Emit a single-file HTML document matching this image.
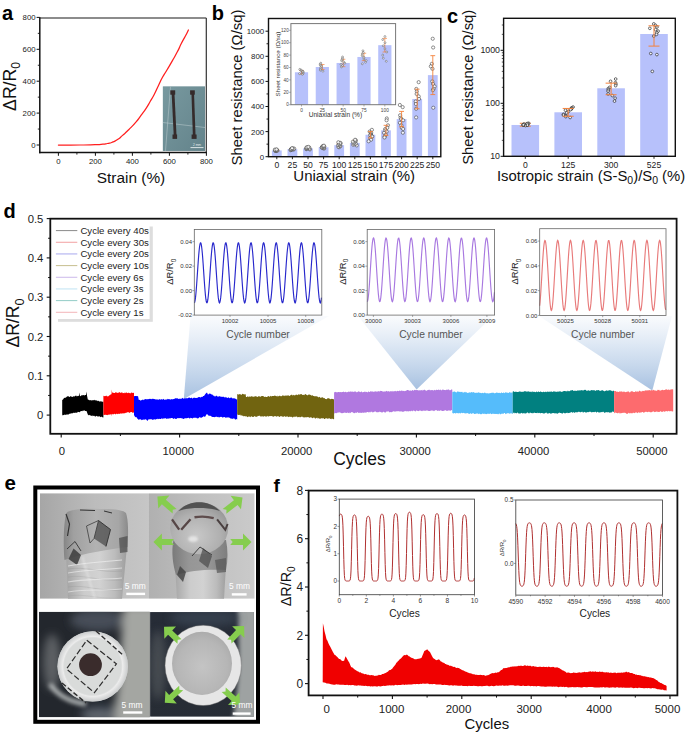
<!DOCTYPE html>
<html><head><meta charset="utf-8"><style>
html,body{margin:0;padding:0;background:#fff;}
svg{display:block;font-family:"Liberation Sans", sans-serif;}
</style></head><body>
<svg width="685" height="733" viewBox="0 0 685 733">
<defs>
<linearGradient id="gA" x1="0" y1="0" x2="1" y2="1"><stop offset="0" stop-color="#7fa0a6" stop-opacity="0.6"/><stop offset="1" stop-color="#5d7c84" stop-opacity="0.6"/></linearGradient>
<linearGradient id="gCone" x1="0" y1="0" x2="0" y2="1"><stop offset="0" stop-color="#c8d8ec" stop-opacity="0.1"/><stop offset="0.45" stop-color="#bed2ea" stop-opacity="0.6"/><stop offset="1" stop-color="#a6c0e0" stop-opacity="1"/></linearGradient>
<clipPath id="c1"><rect x="40" y="493.2" width="109.2" height="105.6"/></clipPath>
<clipPath id="c2"><rect x="149" y="493.2" width="105.7" height="105.6"/></clipPath>
<clipPath id="c3"><rect x="39" y="611.7" width="110.8" height="105.6"/></clipPath>
<clipPath id="c4"><rect x="150.1" y="612.1" width="103.8" height="104.6"/></clipPath>
<filter id="bl1" x="-50%" y="-50%" width="200%" height="200%"><feGaussianBlur stdDeviation="1.2"/></filter>
<filter id="bl2" x="-50%" y="-50%" width="200%" height="200%"><feGaussianBlur stdDeviation="2"/></filter>
<filter id="bl3" x="-50%" y="-50%" width="200%" height="200%"><feGaussianBlur stdDeviation="4"/></filter>
<linearGradient id="bg1" x1="0" y1="0" x2="1" y2="0"><stop offset="0" stop-color="#a6a6a6"/><stop offset="0.5" stop-color="#bcbcbc"/><stop offset="1" stop-color="#c6c6c6"/></linearGradient>
<linearGradient id="bg2" x1="0" y1="0" x2="1" y2="0"><stop offset="0" stop-color="#b0b0b0"/><stop offset="0.5" stop-color="#c0c0c0"/><stop offset="1" stop-color="#cacaca"/></linearGradient>
<linearGradient id="cylL" x1="0" y1="0" x2="1" y2="0"><stop offset="0" stop-color="#a4a4a4"/><stop offset="0.3" stop-color="#cccccc"/><stop offset="0.55" stop-color="#d2d2d2"/><stop offset="0.8" stop-color="#bcbcbc"/><stop offset="1" stop-color="#9c9c9c"/></linearGradient>
<linearGradient id="cap1" x1="0" y1="0" x2="1" y2="0"><stop offset="0" stop-color="#858585"/><stop offset="0.15" stop-color="#a0a0a0"/><stop offset="0.5" stop-color="#b2b2b2"/><stop offset="0.85" stop-color="#a6a6a6"/><stop offset="1" stop-color="#8a8a8a"/></linearGradient>
<radialGradient id="bub" cx="0.45" cy="0.65" r="0.7"><stop offset="0" stop-color="#c8c8c8"/><stop offset="0.6" stop-color="#b0b0b0"/><stop offset="1" stop-color="#929292"/></radialGradient>
<linearGradient id="bg3" x1="0" y1="0" x2="0" y2="1"><stop offset="0" stop-color="#1c2026" stop-opacity="0.3"/><stop offset="1" stop-color="#303840" stop-opacity="0.4"/></linearGradient>
<linearGradient id="bg4" x1="0" y1="0" x2="0" y2="1"><stop offset="0" stop-color="#2a3240" stop-opacity="0.5"/><stop offset="1" stop-color="#303840" stop-opacity="0.4"/></linearGradient>
<radialGradient id="disk4" cx="0.5" cy="0.55" r="0.6"><stop offset="0" stop-color="#c4c4c4"/><stop offset="0.7" stop-color="#b6b6b6"/><stop offset="1" stop-color="#a8a8a8"/></radialGradient>
<radialGradient id="ring3" cx="0.5" cy="0.5" r="0.5"><stop offset="0" stop-color="#d0d2d2" stop-opacity="0"/><stop offset="0.78" stop-color="#d0d2d2" stop-opacity="0.0"/><stop offset="0.85" stop-color="#eeeeee" stop-opacity="0.9"/><stop offset="1" stop-color="#c8cacb" stop-opacity="0.9"/></radialGradient>
<linearGradient id="cap2" x1="0" y1="0" x2="1" y2="0"><stop offset="0" stop-color="#7a7a7a"/><stop offset="0.3" stop-color="#969696"/><stop offset="0.6" stop-color="#9a9a9a"/><stop offset="1" stop-color="#7e7e7e"/></linearGradient>
</defs>
<text x="2.00" y="19.90" font-size="20" text-anchor="start" fill="#000" font-weight="bold">a</text>
<g>
<rect x="162.90" y="86.50" width="42.10" height="64.40" fill="#6d8e95"/>
<rect x="162.9" y="86.5" width="42.1" height="64.4" fill="url(#gA)"/>
<line x1="170.50" y1="86.50" x2="165.50" y2="150.90" stroke="#b8c8cc" stroke-width="0.8" opacity="0.7"/>
<line x1="162.90" y1="122.50" x2="205.00" y2="127.50" stroke="#b8c8cc" stroke-width="0.8" opacity="0.7"/>
<path d="M171.6,92 L174.4,92 L176.6,137 L173.8,137 Z" fill="#352b2b" stroke="none" stroke-width="1"/>
<path d="M191.4,92 L194.0,92 L195.6,137 L192.9,137 Z" fill="#352b2b" stroke="none" stroke-width="1"/>
<rect x="170.30" y="90.30" width="4.90" height="4.40" fill="#352b2b"/>
<rect x="172.50" y="134.50" width="4.60" height="4.40" fill="#352b2b"/>
<rect x="190.10" y="90.30" width="4.70" height="4.40" fill="#352b2b"/>
<rect x="191.60" y="134.50" width="5.00" height="4.40" fill="#352b2b"/>
<line x1="190.50" y1="147.60" x2="203.50" y2="147.60" stroke="#e8eeee" stroke-width="0.9"/>
<text x="197.00" y="146.20" font-size="3.2" text-anchor="middle" fill="#e8eeee" font-weight="normal">2 mm</text>
</g>
<path d="M58.40,145.00 C65.60,145.00 67.80,145.13 80.00,145.00 C92.20,144.87 87.97,144.82 95.00,144.60 C102.03,144.38 97.00,144.72 101.10,144.35 C105.20,143.98 103.53,144.22 107.30,143.50 C111.07,142.78 109.00,143.53 112.40,142.20 C115.80,140.87 114.10,141.77 117.50,139.50 C120.90,137.23 118.87,138.67 122.60,135.40 C126.33,132.13 124.27,134.13 128.70,129.70 C133.13,125.27 131.80,126.87 135.90,122.10 C140.00,117.33 137.60,120.00 141.00,115.40 C144.40,110.80 143.00,113.00 146.10,108.30 C149.20,103.60 147.60,105.90 150.30,101.30 C153.00,96.70 151.47,99.77 154.20,94.50 C156.93,89.23 155.73,91.23 158.50,85.50 C161.27,79.77 159.73,82.40 162.50,77.30 C165.27,72.20 163.53,75.67 166.80,70.20 C170.07,64.73 168.67,67.27 172.30,60.90 C175.93,54.53 174.70,56.90 177.70,51.10 C180.70,45.30 178.73,48.53 181.30,43.50 C183.87,38.47 183.03,40.50 185.40,36.00 C187.77,31.50 187.40,32.00 188.40,30.00" fill="none" stroke="#ff1e1e" stroke-width="1.25" stroke-linejoin="round" stroke-linecap="round"/>
<line x1="39.80" y1="18.00" x2="206.30" y2="18.00" stroke="#666" stroke-width="1.4"/>
<line x1="206.30" y1="18.00" x2="206.30" y2="152.60" stroke="#333" stroke-width="1.2"/>
<line x1="39.80" y1="17.30" x2="39.80" y2="153.30" stroke="#111" stroke-width="1.5"/>
<line x1="39.10" y1="152.60" x2="206.90" y2="152.60" stroke="#111" stroke-width="1.5"/>
<line x1="36.60" y1="145.00" x2="39.80" y2="145.00" stroke="#111" stroke-width="1"/>
<text x="35.60" y="147.80" font-size="7.8" text-anchor="end" fill="#222" font-weight="normal">0</text>
<line x1="36.60" y1="113.10" x2="39.80" y2="113.10" stroke="#111" stroke-width="1"/>
<text x="35.60" y="115.90" font-size="7.8" text-anchor="end" fill="#222" font-weight="normal">200</text>
<line x1="36.60" y1="81.20" x2="39.80" y2="81.20" stroke="#111" stroke-width="1"/>
<text x="35.60" y="84.00" font-size="7.8" text-anchor="end" fill="#222" font-weight="normal">400</text>
<line x1="36.60" y1="49.30" x2="39.80" y2="49.30" stroke="#111" stroke-width="1"/>
<text x="35.60" y="52.10" font-size="7.8" text-anchor="end" fill="#222" font-weight="normal">600</text>
<line x1="36.60" y1="17.40" x2="39.80" y2="17.40" stroke="#111" stroke-width="1"/>
<text x="35.60" y="20.20" font-size="7.8" text-anchor="end" fill="#222" font-weight="normal">800</text>
<line x1="37.80" y1="129.05" x2="39.80" y2="129.05" stroke="#111" stroke-width="0.9"/>
<line x1="37.80" y1="97.15" x2="39.80" y2="97.15" stroke="#111" stroke-width="0.9"/>
<line x1="37.80" y1="65.25" x2="39.80" y2="65.25" stroke="#111" stroke-width="0.9"/>
<line x1="37.80" y1="33.35" x2="39.80" y2="33.35" stroke="#111" stroke-width="0.9"/>
<line x1="58.40" y1="152.60" x2="58.40" y2="155.80" stroke="#111" stroke-width="1"/>
<text x="58.40" y="163.60" font-size="7.8" text-anchor="middle" fill="#222" font-weight="normal">0</text>
<line x1="95.40" y1="152.60" x2="95.40" y2="155.80" stroke="#111" stroke-width="1"/>
<text x="95.40" y="163.60" font-size="7.8" text-anchor="middle" fill="#222" font-weight="normal">200</text>
<line x1="132.40" y1="152.60" x2="132.40" y2="155.80" stroke="#111" stroke-width="1"/>
<text x="132.40" y="163.60" font-size="7.8" text-anchor="middle" fill="#222" font-weight="normal">400</text>
<line x1="169.40" y1="152.60" x2="169.40" y2="155.80" stroke="#111" stroke-width="1"/>
<text x="169.40" y="163.60" font-size="7.8" text-anchor="middle" fill="#222" font-weight="normal">600</text>
<line x1="206.40" y1="152.60" x2="206.40" y2="155.80" stroke="#111" stroke-width="1"/>
<text x="206.40" y="163.60" font-size="7.8" text-anchor="middle" fill="#222" font-weight="normal">800</text>
<line x1="76.90" y1="152.60" x2="76.90" y2="154.60" stroke="#111" stroke-width="0.9"/>
<line x1="113.90" y1="152.60" x2="113.90" y2="154.60" stroke="#111" stroke-width="0.9"/>
<line x1="150.90" y1="152.60" x2="150.90" y2="154.60" stroke="#111" stroke-width="0.9"/>
<line x1="187.90" y1="152.60" x2="187.90" y2="154.60" stroke="#111" stroke-width="0.9"/>
<text x="131.00" y="183.20" font-size="15.4" text-anchor="middle" fill="#111" font-weight="normal">Strain (%)</text>
<text transform="translate(16.1,86.5) rotate(-90)" font-size="17.6" text-anchor="middle" fill="#111">ΔR/R<tspan font-size="12" dy="3.8">0</tspan></text>
<text x="211.80" y="20.00" font-size="20" text-anchor="start" fill="#000" font-weight="bold">b</text>
<rect x="271.90" y="150.42" width="9.80" height="6.28" fill="#b7c1fb"/>
<rect x="287.50" y="149.17" width="9.80" height="7.53" fill="#b7c1fb"/>
<rect x="303.10" y="148.42" width="9.80" height="8.28" fill="#b7c1fb"/>
<rect x="318.70" y="147.29" width="9.80" height="9.41" fill="#b7c1fb"/>
<rect x="334.30" y="145.15" width="9.80" height="11.55" fill="#b7c1fb"/>
<rect x="349.90" y="142.89" width="9.80" height="13.81" fill="#b7c1fb"/>
<rect x="365.50" y="134.74" width="9.80" height="21.96" fill="#b7c1fb"/>
<rect x="381.10" y="130.34" width="9.80" height="26.35" fill="#b7c1fb"/>
<rect x="396.70" y="119.05" width="9.80" height="37.65" fill="#b7c1fb"/>
<rect x="412.30" y="98.97" width="9.80" height="57.73" fill="#b7c1fb"/>
<rect x="427.90" y="75.12" width="9.80" height="81.58" fill="#b7c1fb"/>
<line x1="276.80" y1="151.05" x2="276.80" y2="149.80" stroke="#f4823c" stroke-width="0.9"/>
<line x1="274.40" y1="151.05" x2="279.20" y2="151.05" stroke="#f4823c" stroke-width="0.9"/>
<line x1="274.40" y1="149.80" x2="279.20" y2="149.80" stroke="#f4823c" stroke-width="0.9"/>
<circle cx="276.10" cy="151.05" r="1.6" fill="#fff" fill-opacity="0.85" stroke="#444" stroke-width="0.6"/>
<circle cx="275.40" cy="150.87" r="1.6" fill="#fff" fill-opacity="0.85" stroke="#444" stroke-width="0.6"/>
<circle cx="277.40" cy="150.69" r="1.6" fill="#fff" fill-opacity="0.85" stroke="#444" stroke-width="0.6"/>
<circle cx="275.09" cy="150.51" r="1.6" fill="#fff" fill-opacity="0.85" stroke="#444" stroke-width="0.6"/>
<circle cx="276.94" cy="150.33" r="1.6" fill="#fff" fill-opacity="0.85" stroke="#444" stroke-width="0.6"/>
<circle cx="276.26" cy="150.15" r="1.6" fill="#fff" fill-opacity="0.85" stroke="#444" stroke-width="0.6"/>
<circle cx="275.03" cy="149.96" r="1.6" fill="#fff" fill-opacity="0.85" stroke="#444" stroke-width="0.6"/>
<circle cx="276.83" cy="149.78" r="1.6" fill="#fff" fill-opacity="0.85" stroke="#444" stroke-width="0.6"/>
<circle cx="274.95" cy="149.60" r="1.6" fill="#fff" fill-opacity="0.85" stroke="#444" stroke-width="0.6"/>
<circle cx="276.53" cy="149.42" r="1.6" fill="#fff" fill-opacity="0.85" stroke="#444" stroke-width="0.6"/>
<line x1="292.40" y1="149.92" x2="292.40" y2="148.42" stroke="#f4823c" stroke-width="0.9"/>
<line x1="290.00" y1="149.92" x2="294.80" y2="149.92" stroke="#f4823c" stroke-width="0.9"/>
<line x1="290.00" y1="148.42" x2="294.80" y2="148.42" stroke="#f4823c" stroke-width="0.9"/>
<circle cx="290.68" cy="150.17" r="1.6" fill="#fff" fill-opacity="0.85" stroke="#444" stroke-width="0.6"/>
<circle cx="290.76" cy="149.95" r="1.6" fill="#fff" fill-opacity="0.85" stroke="#444" stroke-width="0.6"/>
<circle cx="292.10" cy="149.73" r="1.6" fill="#fff" fill-opacity="0.85" stroke="#444" stroke-width="0.6"/>
<circle cx="293.71" cy="149.50" r="1.6" fill="#fff" fill-opacity="0.85" stroke="#444" stroke-width="0.6"/>
<circle cx="290.90" cy="149.28" r="1.6" fill="#fff" fill-opacity="0.85" stroke="#444" stroke-width="0.6"/>
<circle cx="291.29" cy="149.06" r="1.6" fill="#fff" fill-opacity="0.85" stroke="#444" stroke-width="0.6"/>
<circle cx="292.91" cy="148.84" r="1.6" fill="#fff" fill-opacity="0.85" stroke="#444" stroke-width="0.6"/>
<circle cx="294.19" cy="148.61" r="1.6" fill="#fff" fill-opacity="0.85" stroke="#444" stroke-width="0.6"/>
<circle cx="292.71" cy="148.39" r="1.6" fill="#fff" fill-opacity="0.85" stroke="#444" stroke-width="0.6"/>
<circle cx="291.99" cy="148.17" r="1.6" fill="#fff" fill-opacity="0.85" stroke="#444" stroke-width="0.6"/>
<line x1="308.00" y1="149.42" x2="308.00" y2="147.41" stroke="#f4823c" stroke-width="0.9"/>
<line x1="305.60" y1="149.42" x2="310.40" y2="149.42" stroke="#f4823c" stroke-width="0.9"/>
<line x1="305.60" y1="147.41" x2="310.40" y2="147.41" stroke="#f4823c" stroke-width="0.9"/>
<circle cx="309.91" cy="149.42" r="1.6" fill="#fff" fill-opacity="0.85" stroke="#444" stroke-width="0.6"/>
<circle cx="306.19" cy="149.14" r="1.6" fill="#fff" fill-opacity="0.85" stroke="#444" stroke-width="0.6"/>
<circle cx="309.43" cy="148.86" r="1.6" fill="#fff" fill-opacity="0.85" stroke="#444" stroke-width="0.6"/>
<circle cx="307.16" cy="148.58" r="1.6" fill="#fff" fill-opacity="0.85" stroke="#444" stroke-width="0.6"/>
<circle cx="306.58" cy="148.31" r="1.6" fill="#fff" fill-opacity="0.85" stroke="#444" stroke-width="0.6"/>
<circle cx="306.47" cy="148.03" r="1.6" fill="#fff" fill-opacity="0.85" stroke="#444" stroke-width="0.6"/>
<circle cx="307.23" cy="147.75" r="1.6" fill="#fff" fill-opacity="0.85" stroke="#444" stroke-width="0.6"/>
<circle cx="309.26" cy="147.47" r="1.6" fill="#fff" fill-opacity="0.85" stroke="#444" stroke-width="0.6"/>
<circle cx="306.72" cy="147.19" r="1.6" fill="#fff" fill-opacity="0.85" stroke="#444" stroke-width="0.6"/>
<circle cx="308.33" cy="146.91" r="1.6" fill="#fff" fill-opacity="0.85" stroke="#444" stroke-width="0.6"/>
<line x1="323.60" y1="148.54" x2="323.60" y2="146.03" stroke="#f4823c" stroke-width="0.9"/>
<line x1="321.20" y1="148.54" x2="326.00" y2="148.54" stroke="#f4823c" stroke-width="0.9"/>
<line x1="321.20" y1="146.03" x2="326.00" y2="146.03" stroke="#f4823c" stroke-width="0.9"/>
<circle cx="324.16" cy="148.54" r="1.6" fill="#fff" fill-opacity="0.85" stroke="#444" stroke-width="0.6"/>
<circle cx="323.09" cy="148.22" r="1.6" fill="#fff" fill-opacity="0.85" stroke="#444" stroke-width="0.6"/>
<circle cx="323.79" cy="147.90" r="1.6" fill="#fff" fill-opacity="0.85" stroke="#444" stroke-width="0.6"/>
<circle cx="321.85" cy="147.58" r="1.6" fill="#fff" fill-opacity="0.85" stroke="#444" stroke-width="0.6"/>
<circle cx="321.84" cy="147.26" r="1.6" fill="#fff" fill-opacity="0.85" stroke="#444" stroke-width="0.6"/>
<circle cx="322.42" cy="146.94" r="1.6" fill="#fff" fill-opacity="0.85" stroke="#444" stroke-width="0.6"/>
<circle cx="324.32" cy="146.62" r="1.6" fill="#fff" fill-opacity="0.85" stroke="#444" stroke-width="0.6"/>
<circle cx="323.31" cy="146.30" r="1.6" fill="#fff" fill-opacity="0.85" stroke="#444" stroke-width="0.6"/>
<circle cx="322.86" cy="145.98" r="1.6" fill="#fff" fill-opacity="0.85" stroke="#444" stroke-width="0.6"/>
<circle cx="323.94" cy="145.66" r="1.6" fill="#fff" fill-opacity="0.85" stroke="#444" stroke-width="0.6"/>
<line x1="339.20" y1="146.91" x2="339.20" y2="143.40" stroke="#f4823c" stroke-width="0.9"/>
<line x1="336.80" y1="146.91" x2="341.60" y2="146.91" stroke="#f4823c" stroke-width="0.9"/>
<line x1="336.80" y1="143.40" x2="341.60" y2="143.40" stroke="#f4823c" stroke-width="0.9"/>
<circle cx="339.01" cy="147.29" r="1.6" fill="#fff" fill-opacity="0.85" stroke="#444" stroke-width="0.6"/>
<circle cx="338.40" cy="146.73" r="1.6" fill="#fff" fill-opacity="0.85" stroke="#444" stroke-width="0.6"/>
<circle cx="340.38" cy="146.17" r="1.6" fill="#fff" fill-opacity="0.85" stroke="#444" stroke-width="0.6"/>
<circle cx="340.00" cy="145.61" r="1.6" fill="#fff" fill-opacity="0.85" stroke="#444" stroke-width="0.6"/>
<circle cx="338.18" cy="145.06" r="1.6" fill="#fff" fill-opacity="0.85" stroke="#444" stroke-width="0.6"/>
<circle cx="339.50" cy="144.50" r="1.6" fill="#fff" fill-opacity="0.85" stroke="#444" stroke-width="0.6"/>
<circle cx="339.30" cy="143.94" r="1.6" fill="#fff" fill-opacity="0.85" stroke="#444" stroke-width="0.6"/>
<circle cx="340.70" cy="143.38" r="1.6" fill="#fff" fill-opacity="0.85" stroke="#444" stroke-width="0.6"/>
<circle cx="340.12" cy="142.83" r="1.6" fill="#fff" fill-opacity="0.85" stroke="#444" stroke-width="0.6"/>
<circle cx="338.35" cy="142.27" r="1.6" fill="#fff" fill-opacity="0.85" stroke="#444" stroke-width="0.6"/>
<line x1="354.80" y1="145.41" x2="354.80" y2="140.38" stroke="#f4823c" stroke-width="0.9"/>
<line x1="352.40" y1="145.41" x2="357.20" y2="145.41" stroke="#f4823c" stroke-width="0.9"/>
<line x1="352.40" y1="140.38" x2="357.20" y2="140.38" stroke="#f4823c" stroke-width="0.9"/>
<circle cx="356.72" cy="145.41" r="1.6" fill="#fff" fill-opacity="0.85" stroke="#444" stroke-width="0.6"/>
<circle cx="353.27" cy="144.78" r="1.6" fill="#fff" fill-opacity="0.85" stroke="#444" stroke-width="0.6"/>
<circle cx="354.47" cy="144.15" r="1.6" fill="#fff" fill-opacity="0.85" stroke="#444" stroke-width="0.6"/>
<circle cx="355.83" cy="143.52" r="1.6" fill="#fff" fill-opacity="0.85" stroke="#444" stroke-width="0.6"/>
<circle cx="353.41" cy="142.89" r="1.6" fill="#fff" fill-opacity="0.85" stroke="#444" stroke-width="0.6"/>
<circle cx="354.76" cy="142.27" r="1.6" fill="#fff" fill-opacity="0.85" stroke="#444" stroke-width="0.6"/>
<circle cx="352.96" cy="141.64" r="1.6" fill="#fff" fill-opacity="0.85" stroke="#444" stroke-width="0.6"/>
<circle cx="355.47" cy="141.01" r="1.6" fill="#fff" fill-opacity="0.85" stroke="#444" stroke-width="0.6"/>
<circle cx="355.86" cy="140.38" r="1.6" fill="#fff" fill-opacity="0.85" stroke="#444" stroke-width="0.6"/>
<circle cx="355.09" cy="139.76" r="1.6" fill="#fff" fill-opacity="0.85" stroke="#444" stroke-width="0.6"/>
<circle cx="371.90" cy="129.84" r="1.6" fill="#fff" fill-opacity="0.85" stroke="#444" stroke-width="0.6"/>
<circle cx="369.65" cy="131.60" r="1.6" fill="#fff" fill-opacity="0.85" stroke="#444" stroke-width="0.6"/>
<circle cx="371.18" cy="132.85" r="1.6" fill="#fff" fill-opacity="0.85" stroke="#444" stroke-width="0.6"/>
<circle cx="370.78" cy="134.11" r="1.6" fill="#fff" fill-opacity="0.85" stroke="#444" stroke-width="0.6"/>
<circle cx="370.72" cy="134.74" r="1.6" fill="#fff" fill-opacity="0.85" stroke="#444" stroke-width="0.6"/>
<circle cx="370.22" cy="135.36" r="1.6" fill="#fff" fill-opacity="0.85" stroke="#444" stroke-width="0.6"/>
<circle cx="371.76" cy="135.99" r="1.6" fill="#fff" fill-opacity="0.85" stroke="#444" stroke-width="0.6"/>
<circle cx="372.18" cy="136.62" r="1.6" fill="#fff" fill-opacity="0.85" stroke="#444" stroke-width="0.6"/>
<circle cx="370.30" cy="137.88" r="1.6" fill="#fff" fill-opacity="0.85" stroke="#444" stroke-width="0.6"/>
<circle cx="371.06" cy="139.76" r="1.6" fill="#fff" fill-opacity="0.85" stroke="#444" stroke-width="0.6"/>
<circle cx="368.64" cy="141.26" r="1.6" fill="#fff" fill-opacity="0.85" stroke="#444" stroke-width="0.6"/>
<line x1="370.40" y1="137.88" x2="370.40" y2="131.60" stroke="#f4823c" stroke-width="0.9"/>
<line x1="368.00" y1="137.88" x2="372.80" y2="137.88" stroke="#f4823c" stroke-width="0.9"/>
<line x1="368.00" y1="131.60" x2="372.80" y2="131.60" stroke="#f4823c" stroke-width="0.9"/>
<circle cx="386.81" cy="118.42" r="1.6" fill="#fff" fill-opacity="0.85" stroke="#444" stroke-width="0.6"/>
<circle cx="386.59" cy="120.30" r="1.6" fill="#fff" fill-opacity="0.85" stroke="#444" stroke-width="0.6"/>
<circle cx="387.97" cy="125.32" r="1.6" fill="#fff" fill-opacity="0.85" stroke="#444" stroke-width="0.6"/>
<circle cx="387.29" cy="127.83" r="1.6" fill="#fff" fill-opacity="0.85" stroke="#444" stroke-width="0.6"/>
<circle cx="385.14" cy="129.09" r="1.6" fill="#fff" fill-opacity="0.85" stroke="#444" stroke-width="0.6"/>
<circle cx="385.54" cy="130.34" r="1.6" fill="#fff" fill-opacity="0.85" stroke="#444" stroke-width="0.6"/>
<circle cx="386.67" cy="131.60" r="1.6" fill="#fff" fill-opacity="0.85" stroke="#444" stroke-width="0.6"/>
<circle cx="384.09" cy="132.85" r="1.6" fill="#fff" fill-opacity="0.85" stroke="#444" stroke-width="0.6"/>
<circle cx="385.85" cy="134.74" r="1.6" fill="#fff" fill-opacity="0.85" stroke="#444" stroke-width="0.6"/>
<circle cx="384.67" cy="136.62" r="1.6" fill="#fff" fill-opacity="0.85" stroke="#444" stroke-width="0.6"/>
<circle cx="384.47" cy="137.50" r="1.6" fill="#fff" fill-opacity="0.85" stroke="#444" stroke-width="0.6"/>
<line x1="386.00" y1="135.36" x2="386.00" y2="125.32" stroke="#f4823c" stroke-width="0.9"/>
<line x1="383.60" y1="135.36" x2="388.40" y2="135.36" stroke="#f4823c" stroke-width="0.9"/>
<line x1="383.60" y1="125.32" x2="388.40" y2="125.32" stroke="#f4823c" stroke-width="0.9"/>
<circle cx="399.84" cy="104.99" r="1.6" fill="#fff" fill-opacity="0.85" stroke="#444" stroke-width="0.6"/>
<circle cx="402.67" cy="107.13" r="1.6" fill="#fff" fill-opacity="0.85" stroke="#444" stroke-width="0.6"/>
<circle cx="400.12" cy="115.28" r="1.6" fill="#fff" fill-opacity="0.85" stroke="#444" stroke-width="0.6"/>
<circle cx="400.59" cy="117.79" r="1.6" fill="#fff" fill-opacity="0.85" stroke="#444" stroke-width="0.6"/>
<circle cx="401.16" cy="119.05" r="1.6" fill="#fff" fill-opacity="0.85" stroke="#444" stroke-width="0.6"/>
<circle cx="403.09" cy="120.30" r="1.6" fill="#fff" fill-opacity="0.85" stroke="#444" stroke-width="0.6"/>
<circle cx="399.92" cy="122.81" r="1.6" fill="#fff" fill-opacity="0.85" stroke="#444" stroke-width="0.6"/>
<circle cx="401.40" cy="125.32" r="1.6" fill="#fff" fill-opacity="0.85" stroke="#444" stroke-width="0.6"/>
<circle cx="401.80" cy="127.83" r="1.6" fill="#fff" fill-opacity="0.85" stroke="#444" stroke-width="0.6"/>
<circle cx="403.13" cy="128.96" r="1.6" fill="#fff" fill-opacity="0.85" stroke="#444" stroke-width="0.6"/>
<circle cx="402.88" cy="132.73" r="1.6" fill="#fff" fill-opacity="0.85" stroke="#444" stroke-width="0.6"/>
<line x1="401.60" y1="126.71" x2="401.60" y2="111.39" stroke="#f4823c" stroke-width="0.9"/>
<line x1="399.20" y1="126.71" x2="404.00" y2="126.71" stroke="#f4823c" stroke-width="0.9"/>
<line x1="399.20" y1="111.39" x2="404.00" y2="111.39" stroke="#f4823c" stroke-width="0.9"/>
<circle cx="418.66" cy="82.15" r="1.6" fill="#fff" fill-opacity="0.85" stroke="#444" stroke-width="0.6"/>
<circle cx="416.31" cy="88.93" r="1.6" fill="#fff" fill-opacity="0.85" stroke="#444" stroke-width="0.6"/>
<circle cx="416.86" cy="91.44" r="1.6" fill="#fff" fill-opacity="0.85" stroke="#444" stroke-width="0.6"/>
<circle cx="416.64" cy="93.95" r="1.6" fill="#fff" fill-opacity="0.85" stroke="#444" stroke-width="0.6"/>
<circle cx="418.74" cy="96.46" r="1.6" fill="#fff" fill-opacity="0.85" stroke="#444" stroke-width="0.6"/>
<circle cx="419.03" cy="98.97" r="1.6" fill="#fff" fill-opacity="0.85" stroke="#444" stroke-width="0.6"/>
<circle cx="415.80" cy="101.48" r="1.6" fill="#fff" fill-opacity="0.85" stroke="#444" stroke-width="0.6"/>
<circle cx="415.90" cy="103.99" r="1.6" fill="#fff" fill-opacity="0.85" stroke="#444" stroke-width="0.6"/>
<circle cx="416.13" cy="108.76" r="1.6" fill="#fff" fill-opacity="0.85" stroke="#444" stroke-width="0.6"/>
<circle cx="416.13" cy="117.42" r="1.6" fill="#fff" fill-opacity="0.85" stroke="#444" stroke-width="0.6"/>
<line x1="417.20" y1="108.76" x2="417.20" y2="89.18" stroke="#f4823c" stroke-width="0.9"/>
<line x1="414.80" y1="108.76" x2="419.60" y2="108.76" stroke="#f4823c" stroke-width="0.9"/>
<line x1="414.80" y1="89.18" x2="419.60" y2="89.18" stroke="#f4823c" stroke-width="0.9"/>
<circle cx="432.74" cy="38.73" r="1.6" fill="#fff" fill-opacity="0.85" stroke="#444" stroke-width="0.6"/>
<circle cx="433.16" cy="47.51" r="1.6" fill="#fff" fill-opacity="0.85" stroke="#444" stroke-width="0.6"/>
<circle cx="431.85" cy="63.83" r="1.6" fill="#fff" fill-opacity="0.85" stroke="#444" stroke-width="0.6"/>
<circle cx="430.82" cy="66.34" r="1.6" fill="#fff" fill-opacity="0.85" stroke="#444" stroke-width="0.6"/>
<circle cx="432.48" cy="68.85" r="1.6" fill="#fff" fill-opacity="0.85" stroke="#444" stroke-width="0.6"/>
<circle cx="432.28" cy="81.40" r="1.6" fill="#fff" fill-opacity="0.85" stroke="#444" stroke-width="0.6"/>
<circle cx="433.07" cy="83.91" r="1.6" fill="#fff" fill-opacity="0.85" stroke="#444" stroke-width="0.6"/>
<circle cx="434.61" cy="86.42" r="1.6" fill="#fff" fill-opacity="0.85" stroke="#444" stroke-width="0.6"/>
<circle cx="433.56" cy="88.93" r="1.6" fill="#fff" fill-opacity="0.85" stroke="#444" stroke-width="0.6"/>
<circle cx="432.86" cy="90.18" r="1.6" fill="#fff" fill-opacity="0.85" stroke="#444" stroke-width="0.6"/>
<circle cx="433.27" cy="107.75" r="1.6" fill="#fff" fill-opacity="0.85" stroke="#444" stroke-width="0.6"/>
<line x1="432.80" y1="94.58" x2="432.80" y2="55.67" stroke="#f4823c" stroke-width="0.9"/>
<line x1="430.40" y1="94.58" x2="435.20" y2="94.58" stroke="#f4823c" stroke-width="0.9"/>
<line x1="430.40" y1="55.67" x2="435.20" y2="55.67" stroke="#f4823c" stroke-width="0.9"/>
<rect x="290.90" y="23.60" width="104.70" height="81.10" fill="#fff"/>
<rect x="294.90" y="72.27" width="13.20" height="32.43" fill="#b7c1fb"/>
<rect x="315.73" y="67.00" width="13.20" height="37.70" fill="#b7c1fb"/>
<rect x="336.56" y="62.97" width="13.20" height="41.73" fill="#b7c1fb"/>
<rect x="357.39" y="56.96" width="13.20" height="47.74" fill="#b7c1fb"/>
<rect x="378.22" y="45.18" width="13.20" height="59.52" fill="#b7c1fb"/>
<line x1="301.50" y1="74.13" x2="301.50" y2="70.41" stroke="#f4823c" stroke-width="0.7"/>
<line x1="299.30" y1="74.13" x2="303.70" y2="74.13" stroke="#f4823c" stroke-width="0.7"/>
<line x1="299.30" y1="70.41" x2="303.70" y2="70.41" stroke="#f4823c" stroke-width="0.7"/>
<circle cx="302.28" cy="74.32" r="0.95" fill="#fff" fill-opacity="0.85" stroke="#555" stroke-width="0.5"/>
<circle cx="299.54" cy="73.70" r="0.95" fill="#fff" fill-opacity="0.85" stroke="#555" stroke-width="0.5"/>
<circle cx="303.26" cy="73.08" r="0.95" fill="#fff" fill-opacity="0.85" stroke="#555" stroke-width="0.5"/>
<circle cx="302.73" cy="72.46" r="0.95" fill="#fff" fill-opacity="0.85" stroke="#555" stroke-width="0.5"/>
<circle cx="303.15" cy="71.84" r="0.95" fill="#fff" fill-opacity="0.85" stroke="#555" stroke-width="0.5"/>
<circle cx="302.81" cy="71.22" r="0.95" fill="#fff" fill-opacity="0.85" stroke="#555" stroke-width="0.5"/>
<circle cx="301.03" cy="70.60" r="0.95" fill="#fff" fill-opacity="0.85" stroke="#555" stroke-width="0.5"/>
<circle cx="301.06" cy="69.98" r="0.95" fill="#fff" fill-opacity="0.85" stroke="#555" stroke-width="0.5"/>
<circle cx="299.76" cy="69.36" r="0.95" fill="#fff" fill-opacity="0.85" stroke="#555" stroke-width="0.5"/>
<line x1="322.33" y1="69.48" x2="322.33" y2="64.52" stroke="#f4823c" stroke-width="0.7"/>
<line x1="320.13" y1="69.48" x2="324.53" y2="69.48" stroke="#f4823c" stroke-width="0.7"/>
<line x1="320.13" y1="64.52" x2="324.53" y2="64.52" stroke="#f4823c" stroke-width="0.7"/>
<circle cx="322.92" cy="71.22" r="0.95" fill="#fff" fill-opacity="0.85" stroke="#555" stroke-width="0.5"/>
<circle cx="320.40" cy="70.21" r="0.95" fill="#fff" fill-opacity="0.85" stroke="#555" stroke-width="0.5"/>
<circle cx="320.43" cy="69.21" r="0.95" fill="#fff" fill-opacity="0.85" stroke="#555" stroke-width="0.5"/>
<circle cx="321.05" cy="68.20" r="0.95" fill="#fff" fill-opacity="0.85" stroke="#555" stroke-width="0.5"/>
<circle cx="320.84" cy="67.19" r="0.95" fill="#fff" fill-opacity="0.85" stroke="#555" stroke-width="0.5"/>
<circle cx="321.63" cy="66.18" r="0.95" fill="#fff" fill-opacity="0.85" stroke="#555" stroke-width="0.5"/>
<circle cx="320.36" cy="65.18" r="0.95" fill="#fff" fill-opacity="0.85" stroke="#555" stroke-width="0.5"/>
<circle cx="320.13" cy="64.17" r="0.95" fill="#fff" fill-opacity="0.85" stroke="#555" stroke-width="0.5"/>
<circle cx="320.80" cy="63.16" r="0.95" fill="#fff" fill-opacity="0.85" stroke="#555" stroke-width="0.5"/>
<line x1="343.16" y1="66.69" x2="343.16" y2="59.25" stroke="#f4823c" stroke-width="0.7"/>
<line x1="340.96" y1="66.69" x2="345.36" y2="66.69" stroke="#f4823c" stroke-width="0.7"/>
<line x1="340.96" y1="59.25" x2="345.36" y2="59.25" stroke="#f4823c" stroke-width="0.7"/>
<circle cx="341.41" cy="66.88" r="0.95" fill="#fff" fill-opacity="0.85" stroke="#555" stroke-width="0.5"/>
<circle cx="342.56" cy="65.64" r="0.95" fill="#fff" fill-opacity="0.85" stroke="#555" stroke-width="0.5"/>
<circle cx="341.07" cy="64.40" r="0.95" fill="#fff" fill-opacity="0.85" stroke="#555" stroke-width="0.5"/>
<circle cx="344.81" cy="63.16" r="0.95" fill="#fff" fill-opacity="0.85" stroke="#555" stroke-width="0.5"/>
<circle cx="343.66" cy="61.92" r="0.95" fill="#fff" fill-opacity="0.85" stroke="#555" stroke-width="0.5"/>
<circle cx="341.61" cy="60.68" r="0.95" fill="#fff" fill-opacity="0.85" stroke="#555" stroke-width="0.5"/>
<circle cx="342.07" cy="59.44" r="0.95" fill="#fff" fill-opacity="0.85" stroke="#555" stroke-width="0.5"/>
<circle cx="342.49" cy="58.20" r="0.95" fill="#fff" fill-opacity="0.85" stroke="#555" stroke-width="0.5"/>
<circle cx="342.56" cy="56.96" r="0.95" fill="#fff" fill-opacity="0.85" stroke="#555" stroke-width="0.5"/>
<line x1="363.99" y1="60.68" x2="363.99" y2="53.24" stroke="#f4823c" stroke-width="0.7"/>
<line x1="361.79" y1="60.68" x2="366.19" y2="60.68" stroke="#f4823c" stroke-width="0.7"/>
<line x1="361.79" y1="53.24" x2="366.19" y2="53.24" stroke="#f4823c" stroke-width="0.7"/>
<circle cx="362.33" cy="63.78" r="0.95" fill="#fff" fill-opacity="0.85" stroke="#555" stroke-width="0.5"/>
<circle cx="365.53" cy="62.15" r="0.95" fill="#fff" fill-opacity="0.85" stroke="#555" stroke-width="0.5"/>
<circle cx="366.16" cy="60.53" r="0.95" fill="#fff" fill-opacity="0.85" stroke="#555" stroke-width="0.5"/>
<circle cx="363.84" cy="58.90" r="0.95" fill="#fff" fill-opacity="0.85" stroke="#555" stroke-width="0.5"/>
<circle cx="363.92" cy="57.27" r="0.95" fill="#fff" fill-opacity="0.85" stroke="#555" stroke-width="0.5"/>
<circle cx="362.17" cy="55.64" r="0.95" fill="#fff" fill-opacity="0.85" stroke="#555" stroke-width="0.5"/>
<circle cx="362.24" cy="54.02" r="0.95" fill="#fff" fill-opacity="0.85" stroke="#555" stroke-width="0.5"/>
<circle cx="363.30" cy="52.39" r="0.95" fill="#fff" fill-opacity="0.85" stroke="#555" stroke-width="0.5"/>
<circle cx="362.95" cy="50.76" r="0.95" fill="#fff" fill-opacity="0.85" stroke="#555" stroke-width="0.5"/>
<line x1="384.82" y1="52.00" x2="384.82" y2="38.36" stroke="#f4823c" stroke-width="0.7"/>
<line x1="382.62" y1="52.00" x2="387.02" y2="52.00" stroke="#f4823c" stroke-width="0.7"/>
<line x1="382.62" y1="38.36" x2="387.02" y2="38.36" stroke="#f4823c" stroke-width="0.7"/>
<circle cx="386.27" cy="61.30" r="0.95" fill="#fff" fill-opacity="0.85" stroke="#555" stroke-width="0.5"/>
<circle cx="383.33" cy="58.20" r="0.95" fill="#fff" fill-opacity="0.85" stroke="#555" stroke-width="0.5"/>
<circle cx="382.72" cy="55.10" r="0.95" fill="#fff" fill-opacity="0.85" stroke="#555" stroke-width="0.5"/>
<circle cx="386.80" cy="52.00" r="0.95" fill="#fff" fill-opacity="0.85" stroke="#555" stroke-width="0.5"/>
<circle cx="384.94" cy="48.90" r="0.95" fill="#fff" fill-opacity="0.85" stroke="#555" stroke-width="0.5"/>
<circle cx="383.27" cy="45.80" r="0.95" fill="#fff" fill-opacity="0.85" stroke="#555" stroke-width="0.5"/>
<circle cx="385.01" cy="42.70" r="0.95" fill="#fff" fill-opacity="0.85" stroke="#555" stroke-width="0.5"/>
<circle cx="382.74" cy="39.60" r="0.95" fill="#fff" fill-opacity="0.85" stroke="#555" stroke-width="0.5"/>
<circle cx="384.94" cy="36.50" r="0.95" fill="#fff" fill-opacity="0.85" stroke="#555" stroke-width="0.5"/>
<rect x="290.9" y="23.6" width="104.70" height="81.10" fill="none" stroke="#777" stroke-width="1"/>
<line x1="289.10" y1="104.70" x2="290.90" y2="104.70" stroke="#777" stroke-width="0.6"/>
<text x="288.70" y="106.30" font-size="4.6" text-anchor="end" fill="#444" font-weight="normal">0</text>
<line x1="289.10" y1="92.30" x2="290.90" y2="92.30" stroke="#777" stroke-width="0.6"/>
<text x="288.70" y="93.90" font-size="4.6" text-anchor="end" fill="#444" font-weight="normal">20</text>
<line x1="289.10" y1="79.90" x2="290.90" y2="79.90" stroke="#777" stroke-width="0.6"/>
<text x="288.70" y="81.50" font-size="4.6" text-anchor="end" fill="#444" font-weight="normal">40</text>
<line x1="289.10" y1="67.50" x2="290.90" y2="67.50" stroke="#777" stroke-width="0.6"/>
<text x="288.70" y="69.10" font-size="4.6" text-anchor="end" fill="#444" font-weight="normal">60</text>
<line x1="289.10" y1="55.10" x2="290.90" y2="55.10" stroke="#777" stroke-width="0.6"/>
<text x="288.70" y="56.70" font-size="4.6" text-anchor="end" fill="#444" font-weight="normal">80</text>
<line x1="289.10" y1="42.70" x2="290.90" y2="42.70" stroke="#777" stroke-width="0.6"/>
<text x="288.70" y="44.30" font-size="4.6" text-anchor="end" fill="#444" font-weight="normal">100</text>
<line x1="289.10" y1="30.30" x2="290.90" y2="30.30" stroke="#777" stroke-width="0.6"/>
<text x="288.70" y="31.90" font-size="4.6" text-anchor="end" fill="#444" font-weight="normal">120</text>
<line x1="301.50" y1="104.70" x2="301.50" y2="106.50" stroke="#777" stroke-width="0.6"/>
<text x="301.50" y="111.90" font-size="4.8" text-anchor="middle" fill="#444" font-weight="normal">0</text>
<line x1="322.33" y1="104.70" x2="322.33" y2="106.50" stroke="#777" stroke-width="0.6"/>
<text x="322.33" y="111.90" font-size="4.8" text-anchor="middle" fill="#444" font-weight="normal">25</text>
<line x1="343.16" y1="104.70" x2="343.16" y2="106.50" stroke="#777" stroke-width="0.6"/>
<text x="343.16" y="111.90" font-size="4.8" text-anchor="middle" fill="#444" font-weight="normal">50</text>
<line x1="363.99" y1="104.70" x2="363.99" y2="106.50" stroke="#777" stroke-width="0.6"/>
<text x="363.99" y="111.90" font-size="4.8" text-anchor="middle" fill="#444" font-weight="normal">75</text>
<line x1="384.82" y1="104.70" x2="384.82" y2="106.50" stroke="#777" stroke-width="0.6"/>
<text x="384.82" y="111.90" font-size="4.8" text-anchor="middle" fill="#444" font-weight="normal">100</text>
<text x="335.40" y="117.30" font-size="6.6" text-anchor="middle" fill="#333" font-weight="normal">Uniaxial strain (%)</text>
<text transform="translate(279.6,64) rotate(-90)" font-size="6.2" text-anchor="middle" fill="#333">Sheet resistance (Ω/sq)</text>
<rect x="268.5" y="18.5" width="172.30" height="138.20" fill="none" stroke="#111" stroke-width="1.4"/>
<line x1="265.50" y1="156.70" x2="268.50" y2="156.70" stroke="#111" stroke-width="1"/>
<text x="264.20" y="159.60" font-size="7.9" text-anchor="end" fill="#222" font-weight="normal">0</text>
<line x1="265.50" y1="131.60" x2="268.50" y2="131.60" stroke="#111" stroke-width="1"/>
<text x="264.20" y="134.50" font-size="7.9" text-anchor="end" fill="#222" font-weight="normal">200</text>
<line x1="265.50" y1="106.50" x2="268.50" y2="106.50" stroke="#111" stroke-width="1"/>
<text x="264.20" y="109.40" font-size="7.9" text-anchor="end" fill="#222" font-weight="normal">400</text>
<line x1="265.50" y1="81.40" x2="268.50" y2="81.40" stroke="#111" stroke-width="1"/>
<text x="264.20" y="84.30" font-size="7.9" text-anchor="end" fill="#222" font-weight="normal">600</text>
<line x1="265.50" y1="56.30" x2="268.50" y2="56.30" stroke="#111" stroke-width="1"/>
<text x="264.20" y="59.20" font-size="7.9" text-anchor="end" fill="#222" font-weight="normal">800</text>
<line x1="265.50" y1="31.20" x2="268.50" y2="31.20" stroke="#111" stroke-width="1"/>
<text x="264.20" y="34.10" font-size="7.9" text-anchor="end" fill="#222" font-weight="normal">1000</text>
<line x1="266.50" y1="144.15" x2="268.50" y2="144.15" stroke="#111" stroke-width="0.9"/>
<line x1="266.50" y1="119.05" x2="268.50" y2="119.05" stroke="#111" stroke-width="0.9"/>
<line x1="266.50" y1="93.95" x2="268.50" y2="93.95" stroke="#111" stroke-width="0.9"/>
<line x1="266.50" y1="68.85" x2="268.50" y2="68.85" stroke="#111" stroke-width="0.9"/>
<line x1="266.50" y1="43.75" x2="268.50" y2="43.75" stroke="#111" stroke-width="0.9"/>
<line x1="276.80" y1="156.70" x2="276.80" y2="159.20" stroke="#111" stroke-width="0.9"/>
<text x="276.80" y="168.40" font-size="8.6" text-anchor="middle" fill="#222" font-weight="normal">0</text>
<line x1="292.40" y1="156.70" x2="292.40" y2="159.20" stroke="#111" stroke-width="0.9"/>
<text x="292.40" y="168.40" font-size="8.6" text-anchor="middle" fill="#222" font-weight="normal">25</text>
<line x1="308.00" y1="156.70" x2="308.00" y2="159.20" stroke="#111" stroke-width="0.9"/>
<text x="308.00" y="168.40" font-size="8.6" text-anchor="middle" fill="#222" font-weight="normal">50</text>
<line x1="323.60" y1="156.70" x2="323.60" y2="159.20" stroke="#111" stroke-width="0.9"/>
<text x="323.60" y="168.40" font-size="8.6" text-anchor="middle" fill="#222" font-weight="normal">75</text>
<line x1="339.20" y1="156.70" x2="339.20" y2="159.20" stroke="#111" stroke-width="0.9"/>
<text x="339.20" y="168.40" font-size="8.6" text-anchor="middle" fill="#222" font-weight="normal">100</text>
<line x1="354.80" y1="156.70" x2="354.80" y2="159.20" stroke="#111" stroke-width="0.9"/>
<text x="354.80" y="168.40" font-size="8.6" text-anchor="middle" fill="#222" font-weight="normal">125</text>
<line x1="370.40" y1="156.70" x2="370.40" y2="159.20" stroke="#111" stroke-width="0.9"/>
<text x="370.40" y="168.40" font-size="8.6" text-anchor="middle" fill="#222" font-weight="normal">150</text>
<line x1="386.00" y1="156.70" x2="386.00" y2="159.20" stroke="#111" stroke-width="0.9"/>
<text x="386.00" y="168.40" font-size="8.6" text-anchor="middle" fill="#222" font-weight="normal">175</text>
<line x1="401.60" y1="156.70" x2="401.60" y2="159.20" stroke="#111" stroke-width="0.9"/>
<text x="401.60" y="168.40" font-size="8.6" text-anchor="middle" fill="#222" font-weight="normal">200</text>
<line x1="417.20" y1="156.70" x2="417.20" y2="159.20" stroke="#111" stroke-width="0.9"/>
<text x="417.20" y="168.40" font-size="8.6" text-anchor="middle" fill="#222" font-weight="normal">225</text>
<line x1="432.80" y1="156.70" x2="432.80" y2="159.20" stroke="#111" stroke-width="0.9"/>
<text x="432.80" y="168.40" font-size="8.6" text-anchor="middle" fill="#222" font-weight="normal">250</text>
<text x="354.20" y="181.40" font-size="15.0" text-anchor="middle" fill="#111" font-weight="normal">Uniaxial strain (%)</text>
<text transform="translate(241.6,87.5) rotate(-90)" font-size="14.9" text-anchor="middle" fill="#111">Sheet resistance (Ω/sq)</text>
<text x="447.00" y="23.00" font-size="20" text-anchor="start" fill="#000" font-weight="bold">c</text>
<rect x="511.50" y="124.97" width="27.60" height="31.33" fill="#b7c1fb"/>
<rect x="554.40" y="112.28" width="27.60" height="44.02" fill="#b7c1fb"/>
<rect x="597.30" y="88.29" width="27.60" height="68.01" fill="#b7c1fb"/>
<rect x="640.20" y="34.00" width="27.60" height="122.30" fill="#b7c1fb"/>
<line x1="525.30" y1="126.19" x2="525.30" y2="123.27" stroke="#f4823c" stroke-width="1.0"/>
<line x1="519.80" y1="126.19" x2="530.80" y2="126.19" stroke="#f4823c" stroke-width="1.0"/>
<line x1="519.80" y1="123.27" x2="530.80" y2="123.27" stroke="#f4823c" stroke-width="1.0"/>
<circle cx="528.65" cy="123.27" r="1.35" fill="#fff" fill-opacity="0.85" stroke="#222" stroke-width="0.65"/>
<circle cx="527.84" cy="123.82" r="1.35" fill="#fff" fill-opacity="0.85" stroke="#222" stroke-width="0.65"/>
<circle cx="526.67" cy="124.10" r="1.35" fill="#fff" fill-opacity="0.85" stroke="#222" stroke-width="0.65"/>
<circle cx="523.63" cy="124.39" r="1.35" fill="#fff" fill-opacity="0.85" stroke="#222" stroke-width="0.65"/>
<circle cx="524.37" cy="124.68" r="1.35" fill="#fff" fill-opacity="0.85" stroke="#222" stroke-width="0.65"/>
<circle cx="522.97" cy="124.97" r="1.35" fill="#fff" fill-opacity="0.85" stroke="#222" stroke-width="0.65"/>
<circle cx="527.20" cy="125.27" r="1.35" fill="#fff" fill-opacity="0.85" stroke="#222" stroke-width="0.65"/>
<circle cx="525.53" cy="125.57" r="1.35" fill="#fff" fill-opacity="0.85" stroke="#222" stroke-width="0.65"/>
<circle cx="527.25" cy="123.54" r="1.35" fill="#fff" fill-opacity="0.85" stroke="#222" stroke-width="0.65"/>
<circle cx="524.11" cy="124.28" r="1.35" fill="#fff" fill-opacity="0.85" stroke="#222" stroke-width="0.65"/>
<circle cx="523.36" cy="124.86" r="1.35" fill="#fff" fill-opacity="0.85" stroke="#222" stroke-width="0.65"/>
<circle cx="527.48" cy="125.09" r="1.35" fill="#fff" fill-opacity="0.85" stroke="#222" stroke-width="0.65"/>
<circle cx="573.05" cy="107.04" r="1.35" fill="#fff" fill-opacity="0.85" stroke="#222" stroke-width="0.65"/>
<circle cx="571.73" cy="107.87" r="1.35" fill="#fff" fill-opacity="0.85" stroke="#222" stroke-width="0.65"/>
<circle cx="571.26" cy="108.44" r="1.35" fill="#fff" fill-opacity="0.85" stroke="#222" stroke-width="0.65"/>
<circle cx="571.38" cy="109.02" r="1.35" fill="#fff" fill-opacity="0.85" stroke="#222" stroke-width="0.65"/>
<circle cx="570.60" cy="109.62" r="1.35" fill="#fff" fill-opacity="0.85" stroke="#222" stroke-width="0.65"/>
<circle cx="565.47" cy="110.23" r="1.35" fill="#fff" fill-opacity="0.85" stroke="#222" stroke-width="0.65"/>
<circle cx="568.38" cy="111.51" r="1.35" fill="#fff" fill-opacity="0.85" stroke="#222" stroke-width="0.65"/>
<circle cx="566.76" cy="112.86" r="1.35" fill="#fff" fill-opacity="0.85" stroke="#222" stroke-width="0.65"/>
<circle cx="563.49" cy="114.30" r="1.35" fill="#fff" fill-opacity="0.85" stroke="#222" stroke-width="0.65"/>
<circle cx="563.48" cy="115.06" r="1.35" fill="#fff" fill-opacity="0.85" stroke="#222" stroke-width="0.65"/>
<circle cx="565.99" cy="115.84" r="1.35" fill="#fff" fill-opacity="0.85" stroke="#222" stroke-width="0.65"/>
<circle cx="565.79" cy="116.65" r="1.35" fill="#fff" fill-opacity="0.85" stroke="#222" stroke-width="0.65"/>
<circle cx="570.13" cy="117.48" r="1.35" fill="#fff" fill-opacity="0.85" stroke="#222" stroke-width="0.65"/>
<line x1="568.20" y1="116.24" x2="568.20" y2="108.44" stroke="#f4823c" stroke-width="1.0"/>
<line x1="562.70" y1="116.24" x2="573.70" y2="116.24" stroke="#f4823c" stroke-width="1.0"/>
<line x1="562.70" y1="108.44" x2="573.70" y2="108.44" stroke="#f4823c" stroke-width="1.0"/>
<circle cx="615.67" cy="79.03" r="1.35" fill="#fff" fill-opacity="0.85" stroke="#222" stroke-width="0.65"/>
<circle cx="610.57" cy="81.31" r="1.35" fill="#fff" fill-opacity="0.85" stroke="#222" stroke-width="0.65"/>
<circle cx="615.47" cy="82.67" r="1.35" fill="#fff" fill-opacity="0.85" stroke="#222" stroke-width="0.65"/>
<circle cx="615.98" cy="84.13" r="1.35" fill="#fff" fill-opacity="0.85" stroke="#222" stroke-width="0.65"/>
<circle cx="615.65" cy="85.68" r="1.35" fill="#fff" fill-opacity="0.85" stroke="#222" stroke-width="0.65"/>
<circle cx="609.75" cy="87.35" r="1.35" fill="#fff" fill-opacity="0.85" stroke="#222" stroke-width="0.65"/>
<circle cx="608.30" cy="88.53" r="1.35" fill="#fff" fill-opacity="0.85" stroke="#222" stroke-width="0.65"/>
<circle cx="608.37" cy="89.77" r="1.35" fill="#fff" fill-opacity="0.85" stroke="#222" stroke-width="0.65"/>
<circle cx="608.07" cy="91.09" r="1.35" fill="#fff" fill-opacity="0.85" stroke="#222" stroke-width="0.65"/>
<circle cx="608.14" cy="93.97" r="1.35" fill="#fff" fill-opacity="0.85" stroke="#222" stroke-width="0.65"/>
<circle cx="612.34" cy="95.56" r="1.35" fill="#fff" fill-opacity="0.85" stroke="#222" stroke-width="0.65"/>
<circle cx="615.10" cy="98.16" r="1.35" fill="#fff" fill-opacity="0.85" stroke="#222" stroke-width="0.65"/>
<circle cx="614.50" cy="101.11" r="1.35" fill="#fff" fill-opacity="0.85" stroke="#222" stroke-width="0.65"/>
<line x1="611.10" y1="94.75" x2="611.10" y2="83.15" stroke="#f4823c" stroke-width="1.0"/>
<line x1="605.60" y1="94.75" x2="616.60" y2="94.75" stroke="#f4823c" stroke-width="1.0"/>
<line x1="605.60" y1="83.15" x2="616.60" y2="83.15" stroke="#f4823c" stroke-width="1.0"/>
<circle cx="653.79" cy="23.89" r="1.35" fill="#fff" fill-opacity="0.85" stroke="#222" stroke-width="0.65"/>
<circle cx="655.53" cy="25.40" r="1.35" fill="#fff" fill-opacity="0.85" stroke="#222" stroke-width="0.65"/>
<circle cx="657.00" cy="27.02" r="1.35" fill="#fff" fill-opacity="0.85" stroke="#222" stroke-width="0.65"/>
<circle cx="649.85" cy="28.31" r="1.35" fill="#fff" fill-opacity="0.85" stroke="#222" stroke-width="0.65"/>
<circle cx="655.61" cy="29.67" r="1.35" fill="#fff" fill-opacity="0.85" stroke="#222" stroke-width="0.65"/>
<circle cx="658.10" cy="31.13" r="1.35" fill="#fff" fill-opacity="0.85" stroke="#222" stroke-width="0.65"/>
<circle cx="656.82" cy="32.68" r="1.35" fill="#fff" fill-opacity="0.85" stroke="#222" stroke-width="0.65"/>
<circle cx="656.50" cy="34.35" r="1.35" fill="#fff" fill-opacity="0.85" stroke="#222" stroke-width="0.65"/>
<circle cx="653.78" cy="36.14" r="1.35" fill="#fff" fill-opacity="0.85" stroke="#222" stroke-width="0.65"/>
<circle cx="650.79" cy="53.51" r="1.35" fill="#fff" fill-opacity="0.85" stroke="#222" stroke-width="0.65"/>
<circle cx="656.89" cy="54.59" r="1.35" fill="#fff" fill-opacity="0.85" stroke="#222" stroke-width="0.65"/>
<circle cx="652.33" cy="71.39" r="1.35" fill="#fff" fill-opacity="0.85" stroke="#222" stroke-width="0.65"/>
<line x1="654.00" y1="46.10" x2="654.00" y2="25.79" stroke="#f4823c" stroke-width="1.0"/>
<line x1="648.50" y1="46.10" x2="659.50" y2="46.10" stroke="#f4823c" stroke-width="1.0"/>
<line x1="648.50" y1="25.79" x2="659.50" y2="25.79" stroke="#f4823c" stroke-width="1.0"/>
<rect x="503.6" y="18.3" width="171.70" height="138.00" fill="none" stroke="#111" stroke-width="1.4"/>
<line x1="500.60" y1="156.30" x2="503.60" y2="156.30" stroke="#111" stroke-width="1"/>
<text x="500.00" y="159.30" font-size="8.8" text-anchor="end" fill="#222" font-weight="normal">10</text>
<line x1="500.60" y1="103.30" x2="503.60" y2="103.30" stroke="#111" stroke-width="1"/>
<text x="500.00" y="106.30" font-size="8.8" text-anchor="end" fill="#222" font-weight="normal">100</text>
<line x1="500.60" y1="50.30" x2="503.60" y2="50.30" stroke="#111" stroke-width="1"/>
<text x="500.00" y="53.30" font-size="8.8" text-anchor="end" fill="#222" font-weight="normal">1000</text>
<line x1="501.80" y1="140.35" x2="503.60" y2="140.35" stroke="#111" stroke-width="0.7"/>
<line x1="501.80" y1="131.01" x2="503.60" y2="131.01" stroke="#111" stroke-width="0.7"/>
<line x1="501.80" y1="124.39" x2="503.60" y2="124.39" stroke="#111" stroke-width="0.7"/>
<line x1="501.80" y1="119.25" x2="503.60" y2="119.25" stroke="#111" stroke-width="0.7"/>
<line x1="501.80" y1="115.06" x2="503.60" y2="115.06" stroke="#111" stroke-width="0.7"/>
<line x1="501.80" y1="111.51" x2="503.60" y2="111.51" stroke="#111" stroke-width="0.7"/>
<line x1="501.80" y1="108.44" x2="503.60" y2="108.44" stroke="#111" stroke-width="0.7"/>
<line x1="501.80" y1="105.73" x2="503.60" y2="105.73" stroke="#111" stroke-width="0.7"/>
<line x1="501.80" y1="87.35" x2="503.60" y2="87.35" stroke="#111" stroke-width="0.7"/>
<line x1="501.80" y1="78.01" x2="503.60" y2="78.01" stroke="#111" stroke-width="0.7"/>
<line x1="501.80" y1="71.39" x2="503.60" y2="71.39" stroke="#111" stroke-width="0.7"/>
<line x1="501.80" y1="66.25" x2="503.60" y2="66.25" stroke="#111" stroke-width="0.7"/>
<line x1="501.80" y1="62.06" x2="503.60" y2="62.06" stroke="#111" stroke-width="0.7"/>
<line x1="501.80" y1="58.51" x2="503.60" y2="58.51" stroke="#111" stroke-width="0.7"/>
<line x1="501.80" y1="55.44" x2="503.60" y2="55.44" stroke="#111" stroke-width="0.7"/>
<line x1="501.80" y1="52.73" x2="503.60" y2="52.73" stroke="#111" stroke-width="0.7"/>
<line x1="501.80" y1="34.35" x2="503.60" y2="34.35" stroke="#111" stroke-width="0.7"/>
<line x1="501.80" y1="25.01" x2="503.60" y2="25.01" stroke="#111" stroke-width="0.7"/>
<line x1="525.30" y1="156.30" x2="525.30" y2="158.80" stroke="#111" stroke-width="0.9"/>
<text x="525.30" y="168.20" font-size="8.6" text-anchor="middle" fill="#222" font-weight="normal">0</text>
<line x1="568.20" y1="156.30" x2="568.20" y2="158.80" stroke="#111" stroke-width="0.9"/>
<text x="568.20" y="168.20" font-size="8.6" text-anchor="middle" fill="#222" font-weight="normal">125</text>
<line x1="611.10" y1="156.30" x2="611.10" y2="158.80" stroke="#111" stroke-width="0.9"/>
<text x="611.10" y="168.20" font-size="8.6" text-anchor="middle" fill="#222" font-weight="normal">300</text>
<line x1="654.00" y1="156.30" x2="654.00" y2="158.80" stroke="#111" stroke-width="0.9"/>
<text x="654.00" y="168.20" font-size="8.6" text-anchor="middle" fill="#222" font-weight="normal">525</text>
<text x="497.0" y="181.0" font-size="14.85" fill="#111">Isotropic strain (S-S<tspan font-size="10.5" dy="3.4">0</tspan><tspan dy="-3.4">)/S</tspan><tspan font-size="10.5" dy="3.4">0</tspan><tspan dy="-3.4"> (%)</tspan></text>
<text transform="translate(473.3,87.3) rotate(-90)" font-size="14.8" text-anchor="middle" fill="#111">Sheet resistance (Ω/sq)</text>
<text x="3.50" y="218.00" font-size="20" text-anchor="start" fill="#000" font-weight="bold">d</text>
<path d="M190.5,316.0 L329.0,316.0 L183.8,399.0 Z" fill="url(#gCone)"/>
<path d="M358.0,316.0 L493.0,316.0 L416.6,389.5 Z" fill="url(#gCone)"/>
<path d="M539.0,316.0 L672.0,316.0 L652.3,390.5 Z" fill="url(#gCone)"/>
<path d="M62.20,400.06 L63.03,399.62 L63.85,398.28 L64.67,397.63 L65.50,397.64 L66.25,397.27 L67.00,396.50 L67.75,396.35 L68.50,396.28 L69.25,397.09 L70.00,396.87 L70.78,396.06 L71.57,396.86 L72.35,397.03 L73.13,396.62 L73.92,396.24 L74.70,396.46 L75.42,395.81 L76.13,395.52 L76.85,396.52 L77.57,395.98 L78.28,395.68 L79.00,396.02 L79.50,392.42 L80.00,396.25 L80.75,396.10 L81.50,395.28 L82.25,395.24 L83.00,395.20 L83.75,395.05 L84.50,395.38 L85.25,394.90 L86.00,395.00 L86.50,391.56 L87.00,395.49 L87.80,399.52 L88.52,399.73 L89.24,399.96 L89.96,400.43 L90.68,399.92 L91.40,400.60 L92.12,400.18 L92.84,400.30 L93.56,400.37 L94.28,399.84 L95.00,400.43 L95.73,400.24 L96.46,400.14 L97.19,401.22 L97.92,400.59 L98.65,401.07 L99.38,401.49 L100.11,401.41 L100.84,401.25 L101.57,401.60 L102.30,401.77 L103.40,401.70 L103.40,417.40 L102.70,417.21 L102.00,417.23 L101.30,416.47 L100.60,417.20 L99.90,416.60 L99.20,416.33 L98.50,416.39 L97.80,416.49 L97.10,416.27 L96.40,415.83 L95.70,416.52 L95.00,416.59 L94.28,415.86 L93.56,415.64 L92.84,416.18 L92.12,415.18 L91.40,415.96 L90.68,415.74 L89.96,414.73 L89.24,415.23 L88.52,415.18 L87.80,414.39 L86.50,410.98 L85.78,410.97 L85.06,410.95 L84.34,410.36 L83.62,410.69 L82.91,410.61 L82.19,411.18 L81.47,410.92 L80.75,411.06 L80.03,412.03 L79.31,412.28 L78.59,411.95 L77.88,411.71 L77.16,412.66 L76.44,412.70 L75.72,412.61 L75.00,413.03 L74.29,412.64 L73.58,412.87 L72.87,412.94 L72.16,413.40 L71.44,413.35 L70.73,413.51 L70.02,413.80 L69.31,413.77 L68.60,414.49 L67.89,414.48 L67.18,414.41 L66.47,414.51 L65.76,414.99 L65.04,414.57 L64.33,414.70 L63.62,415.24 L62.91,414.86 L62.20,415.84 Z" fill="#000" stroke="none" stroke-width="1"/>
<path d="M103.40,395.82 L104.13,396.10 L104.87,396.35 L105.60,396.11 L106.33,395.48 L107.07,396.48 L107.80,396.15 L108.53,396.27 L109.27,395.13 L110.00,395.22 L110.75,394.20 L111.50,394.33 L111.80,389.62 L112.20,392.56 L113.15,392.66 L114.10,392.99 L114.83,392.90 L115.55,392.25 L116.28,392.14 L117.01,393.08 L117.73,392.68 L118.46,392.86 L119.19,392.15 L119.91,392.13 L120.64,392.91 L121.37,392.61 L122.09,392.21 L122.82,393.27 L123.55,392.92 L124.27,393.14 L125.00,392.30 L125.75,393.25 L126.50,392.33 L127.25,393.31 L128.00,392.84 L128.75,392.73 L129.50,393.01 L130.25,393.49 L131.00,392.72 L131.75,392.58 L132.50,393.08 L133.25,392.76 L134.00,393.10 L134.00,412.20 L133.25,412.71 L132.50,412.74 L131.75,411.90 L131.00,412.06 L130.25,412.24 L129.50,412.89 L128.75,412.15 L128.00,412.29 L127.25,412.27 L126.50,412.68 L125.75,412.82 L125.00,413.16 L124.29,413.32 L123.58,413.54 L122.87,413.03 L122.16,413.87 L121.44,413.59 L120.73,413.44 L120.02,413.38 L119.31,413.98 L118.60,413.64 L117.89,413.64 L117.18,414.18 L116.47,413.39 L115.76,414.46 L115.04,413.98 L114.33,413.71 L113.62,414.22 L112.91,414.51 L112.20,413.72 L111.80,416.20 L111.50,413.92 L110.76,414.41 L110.03,414.30 L109.29,414.77 L108.55,414.61 L107.82,415.27 L107.08,414.81 L106.35,414.91 L105.61,414.87 L104.87,414.78 L104.14,415.00 L103.40,415.03 Z" fill="#ff0000" stroke="none" stroke-width="1"/>
<path d="M134.00,396.30 L134.80,395.92 L135.60,395.95 L136.40,396.09 L137.20,396.37 L138.00,396.09 L138.80,400.03 L139.53,399.75 L140.25,400.52 L140.98,400.47 L141.70,399.89 L142.43,399.46 L143.15,400.26 L143.88,399.40 L144.60,399.39 L145.32,398.90 L146.05,399.29 L146.78,399.34 L147.50,399.30 L148.20,398.94 L148.90,399.31 L149.60,398.71 L150.30,399.02 L151.00,398.81 L151.70,399.18 L152.40,398.75 L153.10,398.73 L153.80,399.07 L154.50,398.98 L155.20,399.40 L155.90,399.34 L156.60,399.60 L157.30,399.49 L158.00,399.56 L158.70,399.75 L159.40,399.17 L160.10,399.09 L160.80,399.88 L161.50,398.88 L162.20,399.57 L162.90,399.47 L163.60,398.75 L164.30,399.70 L165.00,399.77 L165.70,399.42 L166.41,399.51 L167.11,399.57 L167.82,398.72 L168.52,399.15 L169.22,399.09 L169.93,399.45 L170.63,399.38 L171.34,399.37 L172.04,399.04 L172.74,399.38 L173.45,399.09 L174.15,399.06 L174.86,398.47 L175.56,398.20 L176.26,398.28 L176.97,398.52 L177.67,398.18 L178.38,399.02 L179.08,398.65 L179.78,398.70 L180.49,398.66 L181.19,398.69 L181.90,398.42 L182.60,397.80 L183.32,398.72 L184.05,398.62 L184.78,398.29 L185.50,398.29 L186.22,398.40 L186.95,397.65 L187.67,398.42 L188.40,397.80 L189.12,397.55 L189.85,397.74 L190.57,398.26 L191.30,397.60 L192.03,398.20 L192.75,398.45 L193.47,397.83 L194.20,397.66 L194.93,397.74 L195.65,397.95 L196.38,398.01 L197.10,397.79 L197.82,397.78 L198.55,397.07 L199.28,397.11 L200.00,397.20 L200.80,397.59 L201.60,396.87 L202.40,396.98 L203.20,396.11 L204.00,395.97 L205.00,394.47 L206.00,393.21 L207.00,392.53 L208.00,394.71 L209.00,393.75 L210.00,393.52 L210.80,393.92 L211.60,394.38 L212.40,394.42 L213.20,395.81 L214.00,395.44 L214.70,396.46 L215.40,396.49 L216.10,395.48 L216.80,396.09 L217.50,396.61 L218.20,396.87 L218.90,396.33 L219.60,396.20 L220.30,396.22 L221.00,397.18 L221.70,396.39 L222.40,396.92 L223.10,396.48 L223.80,397.02 L224.50,397.62 L225.20,396.72 L225.90,397.63 L226.60,397.34 L227.30,397.88 L228.00,397.74 L228.71,397.32 L229.42,398.25 L230.12,397.90 L230.83,397.48 L231.54,397.60 L232.25,398.32 L232.95,398.41 L233.66,398.37 L234.37,398.32 L235.08,398.70 L235.78,398.80 L236.49,399.57 L237.20,399.30 L237.20,419.40 L236.49,419.04 L235.78,419.38 L235.08,419.56 L234.37,418.57 L233.66,418.43 L232.95,418.59 L232.25,418.95 L231.54,418.53 L230.83,418.77 L230.12,418.05 L229.42,417.72 L228.71,417.24 L228.00,417.82 L227.30,417.32 L226.60,417.48 L225.90,417.66 L225.20,417.55 L224.50,416.96 L223.80,416.96 L223.10,417.62 L222.40,417.50 L221.70,417.00 L221.00,416.80 L220.30,416.97 L219.60,417.33 L218.90,417.62 L218.20,416.75 L217.50,417.36 L216.80,416.43 L216.10,417.00 L215.40,416.84 L214.70,417.16 L214.00,416.98 L213.29,416.95 L212.57,417.10 L211.86,416.68 L211.14,416.37 L210.43,415.81 L209.71,415.65 L209.00,415.70 L208.00,415.22 L207.00,413.73 L206.00,415.29 L205.00,417.01 L204.29,416.54 L203.57,416.24 L202.86,417.12 L202.14,417.15 L201.43,417.83 L200.71,417.78 L200.00,417.14 L199.28,417.16 L198.55,418.21 L197.82,418.22 L197.10,418.38 L196.38,417.80 L195.65,417.78 L194.93,417.63 L194.20,417.69 L193.47,417.66 L192.75,418.47 L192.03,418.22 L191.30,418.10 L190.57,417.68 L189.85,418.73 L189.12,417.93 L188.40,417.71 L187.67,418.07 L186.95,418.15 L186.22,418.36 L185.50,418.26 L184.78,418.30 L184.05,418.73 L183.32,418.93 L182.60,418.58 L181.90,418.21 L181.19,418.19 L180.49,418.01 L179.78,418.31 L179.08,418.01 L178.38,418.13 L177.67,418.07 L176.97,418.44 L176.26,419.10 L175.56,418.99 L174.86,418.16 L174.15,418.50 L173.45,418.99 L172.74,418.15 L172.04,418.09 L171.34,418.10 L170.63,418.37 L169.93,418.57 L169.22,418.26 L168.52,418.69 L167.82,418.21 L167.11,419.07 L166.41,418.79 L165.70,418.26 L165.00,418.31 L164.29,418.51 L163.58,418.14 L162.88,419.14 L162.17,418.13 L161.46,418.45 L160.75,418.92 L160.04,419.09 L159.33,418.77 L158.62,419.15 L157.92,418.38 L157.21,419.22 L156.50,419.06 L155.79,419.57 L155.08,419.58 L154.38,419.28 L153.67,419.54 L152.96,419.67 L152.25,419.80 L151.54,419.14 L150.83,418.96 L150.12,419.39 L149.42,419.14 L148.71,419.16 L148.00,420.02 L147.50,420.94 L147.00,420.40 L146.25,419.47 L145.51,419.35 L144.76,419.57 L144.02,419.70 L143.27,419.56 L142.53,419.78 L141.78,420.22 L141.04,419.44 L140.29,419.36 L139.55,419.20 L138.80,419.88 L138.00,419.01 L137.20,418.61 L136.40,416.99 L135.60,417.21 L134.80,416.45 L134.00,414.90 Z" fill="#0000ff" stroke="none" stroke-width="1"/>
<path d="M237.20,393.83 L237.90,394.40 L238.60,394.61 L239.30,394.30 L240.00,394.11 L240.70,394.60 L241.40,394.91 L242.10,394.07 L242.80,393.84 L243.50,394.21 L244.20,394.30 L244.90,394.62 L245.60,394.04 L246.00,396.96 L246.70,396.88 L247.40,396.60 L248.10,396.23 L248.80,397.14 L249.50,396.35 L250.20,396.95 L250.90,396.24 L251.60,396.23 L252.30,396.87 L253.00,396.30 L253.70,397.09 L254.40,396.53 L255.10,396.16 L255.80,396.20 L256.50,396.43 L257.20,396.72 L257.90,397.05 L258.60,396.09 L259.30,396.38 L260.00,396.16 L260.71,397.05 L261.43,396.04 L262.14,395.92 L262.86,395.92 L263.57,396.30 L264.29,396.89 L265.00,396.86 L265.71,396.66 L266.43,396.97 L267.14,396.88 L267.86,396.14 L268.57,395.95 L269.29,396.84 L270.00,396.60 L270.71,395.72 L271.43,396.47 L272.14,396.11 L272.86,396.09 L273.57,396.03 L274.29,395.82 L275.00,395.60 L275.71,395.90 L276.43,395.96 L277.14,396.65 L277.86,395.62 L278.57,396.59 L279.29,395.65 L280.00,395.79 L280.71,396.32 L281.43,396.29 L282.14,395.79 L282.86,395.29 L283.57,395.77 L284.29,395.61 L285.00,396.24 L285.71,395.33 L286.43,395.50 L287.14,396.11 L287.86,395.04 L288.57,395.46 L289.29,395.91 L290.00,395.82 L290.71,394.88 L291.43,394.80 L292.14,394.76 L292.86,395.72 L293.57,394.85 L294.29,395.37 L295.00,395.48 L295.71,394.74 L296.43,394.58 L297.14,395.33 L297.86,394.85 L298.57,394.36 L299.29,394.83 L300.00,394.28 L300.71,394.25 L301.43,393.95 L302.14,394.87 L302.86,395.09 L303.57,394.77 L304.29,395.16 L305.00,394.08 L305.71,394.35 L306.43,394.66 L307.14,395.26 L307.86,395.28 L308.57,394.62 L309.29,394.48 L310.00,394.72 L310.71,394.96 L311.43,395.66 L312.14,394.93 L312.86,395.85 L313.57,395.94 L314.29,396.22 L315.00,396.33 L315.71,396.34 L316.43,396.22 L317.14,396.43 L317.86,396.69 L318.57,397.41 L319.29,396.78 L320.00,397.14 L320.75,397.93 L321.50,397.45 L322.25,397.35 L323.00,397.44 L323.75,398.19 L324.50,398.04 L325.25,398.95 L326.00,398.96 L326.74,399.15 L327.47,398.35 L328.21,398.19 L328.95,398.27 L329.68,398.82 L330.42,399.13 L331.15,398.88 L331.89,398.69 L332.63,398.97 L333.36,399.28 L334.10,399.20 L334.10,419.00 L333.40,419.27 L332.69,419.00 L331.99,418.34 L331.28,419.34 L330.58,419.09 L329.87,418.49 L329.17,418.30 L328.46,418.58 L327.75,418.71 L327.05,418.53 L326.35,418.28 L325.64,418.20 L324.94,418.94 L324.23,418.93 L323.52,418.36 L322.82,418.11 L322.12,418.75 L321.41,417.96 L320.70,418.72 L320.00,418.44 L319.29,418.73 L318.57,418.05 L317.86,418.64 L317.14,417.54 L316.43,417.99 L315.71,418.53 L315.00,418.43 L314.29,417.39 L313.57,417.42 L312.86,418.29 L312.14,418.04 L311.43,417.60 L310.71,417.09 L310.00,418.01 L309.29,417.49 L308.57,417.17 L307.86,416.97 L307.14,417.36 L306.43,417.17 L305.71,417.43 L305.00,416.76 L304.29,417.71 L303.57,417.35 L302.86,417.20 L302.14,416.52 L301.43,416.67 L300.71,416.99 L300.00,417.46 L299.29,416.87 L298.57,417.36 L297.86,416.87 L297.14,417.42 L296.43,416.34 L295.71,416.56 L295.00,417.17 L294.29,416.52 L293.57,416.71 L292.86,417.45 L292.14,417.28 L291.43,416.73 L290.71,416.64 L290.00,416.88 L289.29,416.56 L288.57,417.32 L287.86,416.53 L287.14,416.48 L286.43,416.62 L285.71,416.95 L285.00,416.30 L284.29,416.20 L283.57,416.84 L282.86,416.72 L282.14,416.52 L281.43,416.15 L280.71,416.09 L280.00,416.66 L279.29,416.94 L278.57,416.22 L277.86,416.33 L277.14,416.17 L276.43,416.74 L275.71,416.31 L275.00,415.91 L274.29,416.13 L273.57,416.65 L272.86,416.58 L272.14,416.15 L271.43,416.07 L270.71,415.98 L270.00,416.24 L269.29,416.05 L268.57,416.52 L267.86,416.47 L267.14,415.87 L266.43,416.86 L265.71,416.65 L265.00,416.01 L264.29,416.22 L263.57,416.71 L262.86,416.10 L262.14,416.76 L261.43,416.33 L260.71,416.78 L260.00,415.83 L259.30,415.77 L258.60,416.01 L257.90,415.74 L257.20,416.82 L256.50,416.76 L255.80,416.76 L255.10,416.38 L254.40,415.96 L253.70,417.06 L253.00,416.68 L252.30,416.90 L251.60,416.24 L250.90,416.60 L250.20,417.21 L249.50,416.53 L248.80,416.47 L248.10,416.80 L247.40,417.20 L246.70,416.35 L246.00,416.49 L245.27,416.28 L244.53,416.01 L243.80,416.44 L243.07,415.78 L242.33,415.80 L241.60,415.25 L240.87,415.69 L240.13,414.61 L239.40,415.05 L238.67,415.05 L237.93,414.71 L237.20,414.41 Z" fill="#716410" stroke="none" stroke-width="1"/>
<path d="M334.10,391.65 L334.82,392.59 L335.54,391.72 L336.26,392.29 L336.98,392.22 L337.70,392.30 L338.42,391.90 L339.14,392.03 L339.86,392.21 L340.58,392.01 L341.29,392.28 L342.01,392.01 L342.73,391.99 L343.45,391.48 L344.17,392.19 L344.89,392.02 L345.61,391.70 L346.33,392.33 L347.05,392.34 L347.77,391.94 L348.49,391.59 L349.21,391.93 L349.93,391.48 L350.65,391.50 L351.37,391.85 L352.09,391.43 L352.81,391.84 L353.52,391.91 L354.24,391.34 L354.96,392.04 L355.68,391.37 L356.40,392.14 L357.12,392.18 L357.84,391.85 L358.56,391.29 L359.28,391.82 L360.00,391.65 L360.71,392.33 L361.43,391.33 L362.14,392.19 L362.86,392.34 L363.57,392.01 L364.29,392.09 L365.00,391.33 L365.71,392.26 L366.43,391.66 L367.14,392.21 L367.86,392.14 L368.57,391.23 L369.29,391.96 L370.00,392.12 L370.71,391.06 L371.43,391.39 L372.14,391.86 L372.86,391.13 L373.57,392.00 L374.29,391.24 L375.00,391.88 L375.71,391.06 L376.43,391.47 L377.14,391.96 L377.86,391.09 L378.57,391.14 L379.29,391.42 L380.00,391.18 L380.71,390.83 L381.43,390.99 L382.14,390.95 L382.86,391.87 L383.57,391.54 L384.29,391.79 L385.00,390.90 L385.71,391.63 L386.43,390.81 L387.14,391.29 L387.86,391.41 L388.57,391.06 L389.29,391.66 L390.00,391.27 L390.71,391.27 L391.43,391.62 L392.14,390.66 L392.86,391.71 L393.57,391.25 L394.29,390.94 L395.00,391.41 L395.71,390.75 L396.43,391.60 L397.14,391.08 L397.86,390.80 L398.57,391.26 L399.29,390.85 L400.00,390.51 L400.71,391.17 L401.43,390.32 L402.14,391.22 L402.86,390.52 L403.57,390.96 L404.29,391.35 L405.00,390.85 L405.71,390.93 L406.43,390.48 L407.14,390.09 L407.86,390.10 L408.57,390.22 L409.29,390.76 L410.00,390.52 L410.71,390.59 L411.43,391.03 L412.14,390.09 L412.86,390.19 L413.57,390.68 L414.29,389.90 L415.00,389.85 L415.71,390.25 L416.43,389.93 L417.14,390.21 L417.86,390.03 L418.57,390.44 L419.29,390.43 L420.00,389.95 L420.70,390.44 L421.40,390.25 L422.11,389.83 L422.81,390.78 L423.51,389.94 L424.21,389.81 L424.92,389.74 L425.62,390.38 L426.32,390.65 L427.02,390.53 L427.72,390.06 L428.43,389.89 L429.13,389.57 L429.83,390.32 L430.53,390.21 L431.23,389.95 L431.94,390.29 L432.64,390.04 L433.34,390.62 L434.04,390.36 L434.75,389.77 L435.45,390.55 L436.15,389.50 L436.85,390.08 L437.55,389.92 L438.26,389.70 L438.96,389.48 L439.66,390.33 L440.36,389.40 L441.07,390.04 L441.77,390.49 L442.47,389.52 L443.17,389.58 L443.87,390.06 L444.58,389.93 L445.28,390.08 L445.98,390.27 L446.68,389.50 L447.38,389.65 L448.09,389.63 L448.79,389.31 L449.49,390.31 L450.19,390.17 L450.90,390.08 L451.60,389.22 L452.30,389.80 L452.30,410.50 L451.60,410.06 L450.90,410.61 L450.19,410.85 L449.49,410.45 L448.79,410.14 L448.09,410.83 L447.38,410.74 L446.68,410.96 L445.98,410.15 L445.28,410.36 L444.58,410.39 L443.87,410.75 L443.17,410.89 L442.47,410.90 L441.77,410.64 L441.07,410.56 L440.36,410.29 L439.66,411.08 L438.96,410.48 L438.26,410.63 L437.55,411.12 L436.85,410.36 L436.15,410.30 L435.45,410.09 L434.75,411.13 L434.04,410.17 L433.34,411.14 L432.64,410.56 L431.94,410.57 L431.23,410.52 L430.53,410.86 L429.83,411.05 L429.13,410.95 L428.43,411.07 L427.72,410.23 L427.02,410.90 L426.32,410.27 L425.62,410.75 L424.92,410.99 L424.21,410.42 L423.51,410.51 L422.81,411.31 L422.11,410.49 L421.40,411.19 L420.70,410.61 L420.00,410.79 L419.29,410.45 L418.57,411.20 L417.86,410.86 L417.14,410.88 L416.43,410.32 L415.71,411.52 L415.00,411.28 L414.29,410.63 L413.57,410.42 L412.86,410.64 L412.14,411.45 L411.43,410.59 L410.71,411.54 L410.00,410.79 L409.29,411.20 L408.57,411.43 L407.86,411.02 L407.14,411.56 L406.43,411.18 L405.71,411.17 L405.00,410.74 L404.29,411.47 L403.57,411.77 L402.86,411.38 L402.14,411.95 L401.43,411.20 L400.71,411.28 L400.00,411.73 L399.29,411.23 L398.57,411.22 L397.86,410.96 L397.14,411.47 L396.43,411.37 L395.71,411.26 L395.00,411.94 L394.29,411.17 L393.57,411.20 L392.86,411.45 L392.14,411.89 L391.43,412.14 L390.71,411.94 L390.00,412.17 L389.29,412.23 L388.57,411.27 L387.86,411.38 L387.14,411.51 L386.43,411.41 L385.71,412.43 L385.00,412.41 L384.29,412.37 L383.57,411.43 L382.86,412.44 L382.14,412.37 L381.43,412.38 L380.71,411.85 L380.00,412.14 L379.29,411.53 L378.57,412.35 L377.86,412.32 L377.14,412.26 L376.43,412.35 L375.71,411.58 L375.00,411.58 L374.29,411.74 L373.57,412.00 L372.86,412.71 L372.14,411.74 L371.43,411.67 L370.71,411.82 L370.00,412.76 L369.29,411.78 L368.57,412.45 L367.86,411.97 L367.14,412.10 L366.43,412.43 L365.71,412.64 L365.00,412.31 L364.29,412.83 L363.57,412.65 L362.86,412.84 L362.14,412.41 L361.43,413.04 L360.71,412.68 L360.00,412.73 L359.28,412.67 L358.56,413.02 L357.84,412.23 L357.12,412.35 L356.40,413.03 L355.68,412.38 L354.96,412.89 L354.24,413.14 L353.52,412.92 L352.81,412.32 L352.09,412.37 L351.37,412.08 L350.65,413.14 L349.93,412.35 L349.21,413.27 L348.49,412.89 L347.77,412.45 L347.05,412.78 L346.33,413.11 L345.61,412.70 L344.89,412.86 L344.17,412.52 L343.45,413.07 L342.73,413.25 L342.01,413.08 L341.29,413.16 L340.58,412.68 L339.86,412.34 L339.14,412.58 L338.42,412.44 L337.70,412.60 L336.98,412.89 L336.26,413.25 L335.54,412.93 L334.82,413.28 L334.10,413.41 Z" fill="#b078e0" stroke="none" stroke-width="1"/>
<path d="M452.30,391.75 L453.01,392.29 L453.72,391.54 L454.42,391.51 L455.13,391.67 L455.84,392.18 L456.55,392.38 L457.26,391.58 L457.96,391.61 L458.67,391.75 L459.38,391.87 L460.09,392.13 L460.80,391.73 L461.50,391.96 L462.21,391.82 L462.92,392.79 L463.63,392.52 L464.34,391.80 L465.04,392.86 L465.75,391.85 L466.46,392.22 L467.17,392.97 L467.88,392.77 L468.58,392.72 L469.29,392.39 L470.00,392.14 L470.71,392.68 L471.43,392.06 L472.14,392.20 L472.86,392.44 L473.57,392.03 L474.29,392.49 L475.00,392.97 L475.71,392.87 L476.43,392.66 L477.14,392.84 L477.86,392.65 L478.57,392.28 L479.29,392.86 L480.00,392.64 L480.71,393.06 L481.43,393.28 L482.14,392.72 L482.86,392.91 L483.57,393.14 L484.29,392.76 L485.00,392.55 L485.71,393.16 L486.43,393.37 L487.14,393.26 L487.86,393.19 L488.57,393.39 L489.29,393.20 L490.00,393.17 L490.71,392.93 L491.42,392.74 L492.13,393.11 L492.84,392.45 L493.55,392.83 L494.26,393.25 L494.97,393.15 L495.68,393.03 L496.38,392.56 L497.09,392.75 L497.80,392.77 L498.51,392.96 L499.22,392.69 L499.93,392.99 L500.64,393.28 L501.35,392.37 L502.06,392.92 L502.77,393.05 L503.48,392.57 L504.19,392.68 L504.90,393.24 L505.61,392.10 L506.32,392.69 L507.03,392.22 L507.73,392.95 L508.44,393.12 L509.15,392.60 L509.86,392.08 L510.57,392.64 L511.28,392.58 L511.99,392.78 L512.70,392.50 L512.70,413.50 L511.99,414.00 L511.28,413.11 L510.57,413.36 L509.86,413.89 L509.15,413.26 L508.44,413.17 L507.73,413.13 L507.03,413.33 L506.32,413.83 L505.61,414.20 L504.90,413.09 L504.19,413.11 L503.48,413.86 L502.77,414.12 L502.06,413.30 L501.35,414.09 L500.64,414.25 L499.93,414.17 L499.22,413.27 L498.51,414.24 L497.80,414.34 L497.09,413.68 L496.38,414.05 L495.68,414.04 L494.97,413.80 L494.26,413.88 L493.55,413.68 L492.84,413.63 L492.13,413.69 L491.42,414.23 L490.71,413.39 L490.00,413.62 L489.29,413.89 L488.57,413.67 L487.86,413.80 L487.14,413.65 L486.43,414.33 L485.71,413.72 L485.00,414.28 L484.29,413.41 L483.57,413.90 L482.86,413.57 L482.14,413.77 L481.43,414.17 L480.71,414.15 L480.00,413.92 L479.29,413.56 L478.57,414.27 L477.86,413.37 L477.14,413.75 L476.43,413.62 L475.71,413.80 L475.00,414.00 L474.29,413.94 L473.57,413.14 L472.86,413.23 L472.14,413.42 L471.43,413.90 L470.71,413.18 L470.00,413.53 L469.29,414.01 L468.58,413.75 L467.88,413.11 L467.17,413.14 L466.46,413.22 L465.75,413.62 L465.04,413.26 L464.34,413.24 L463.63,412.74 L462.92,413.18 L462.21,413.01 L461.50,412.73 L460.80,413.07 L460.09,413.80 L459.38,412.75 L458.67,413.50 L457.96,413.03 L457.26,413.36 L456.55,412.77 L455.84,413.64 L455.13,412.97 L454.42,413.09 L453.72,413.43 L453.01,413.19 L452.30,413.01 Z" fill="#55bcfb" stroke="none" stroke-width="1"/>
<path d="M512.70,391.85 L513.42,391.11 L514.14,391.99 L514.86,391.65 L515.57,391.87 L516.29,391.74 L517.01,392.02 L517.73,391.90 L518.45,391.97 L519.17,391.21 L519.88,391.81 L520.60,391.62 L521.32,391.89 L522.04,391.53 L522.76,392.07 L523.48,391.68 L524.19,391.34 L524.91,391.32 L525.63,391.21 L526.35,391.64 L527.07,391.13 L527.79,391.63 L528.51,391.25 L529.22,391.67 L529.94,391.69 L530.66,391.74 L531.38,392.14 L532.10,391.12 L532.82,392.13 L533.53,391.69 L534.25,391.81 L534.97,391.94 L535.69,392.16 L536.41,391.61 L537.13,391.67 L537.84,392.33 L538.56,391.27 L539.28,391.96 L540.00,391.96 L540.71,391.22 L541.43,391.91 L542.14,391.99 L542.86,392.27 L543.57,391.54 L544.29,392.31 L545.00,391.74 L545.71,391.70 L546.43,392.18 L547.14,391.13 L547.86,391.94 L548.57,391.82 L549.29,391.47 L550.00,392.08 L550.71,391.48 L551.43,391.60 L552.14,391.65 L552.86,391.93 L553.57,391.25 L554.29,391.51 L555.00,391.48 L555.71,391.63 L556.43,391.95 L557.14,391.29 L557.86,391.93 L558.57,391.41 L559.29,391.52 L560.00,391.23 L560.71,391.46 L561.43,391.98 L562.14,391.55 L562.86,391.66 L563.57,391.06 L564.29,391.00 L565.00,390.93 L565.71,391.23 L566.43,391.24 L567.14,391.38 L567.86,390.44 L568.57,391.21 L569.29,391.36 L570.00,390.90 L570.71,390.26 L571.43,390.52 L572.14,390.12 L572.86,390.29 L573.57,391.12 L574.29,390.70 L575.00,390.71 L575.71,390.83 L576.43,390.92 L577.14,390.52 L577.86,390.48 L578.57,390.45 L579.29,390.48 L580.00,390.32 L580.71,390.43 L581.43,389.88 L582.14,390.43 L582.86,390.19 L583.57,390.57 L584.29,389.79 L585.00,389.89 L585.71,389.73 L586.43,390.63 L587.14,390.80 L587.86,390.50 L588.57,390.17 L589.29,390.73 L590.00,390.69 L590.71,390.44 L591.43,390.08 L592.14,390.14 L592.86,390.30 L593.57,390.19 L594.29,390.33 L595.00,390.60 L595.71,390.96 L596.43,389.91 L597.14,390.54 L597.86,389.92 L598.57,390.02 L599.29,390.86 L600.00,390.59 L600.71,391.02 L601.41,390.48 L602.12,389.98 L602.82,390.44 L603.52,390.71 L604.23,391.15 L604.94,391.22 L605.64,390.63 L606.35,390.57 L607.05,390.22 L607.75,390.89 L608.46,390.39 L609.16,390.34 L609.87,390.20 L610.58,390.21 L611.28,391.04 L611.99,390.39 L612.69,391.42 L613.39,390.39 L614.10,390.90 L614.10,412.10 L613.39,411.75 L612.69,411.57 L611.99,411.83 L611.28,412.70 L610.58,412.53 L609.87,412.48 L609.16,412.71 L608.46,412.09 L607.75,412.53 L607.05,411.91 L606.35,412.29 L605.64,412.20 L604.94,412.67 L604.23,412.83 L603.52,411.69 L602.82,411.68 L602.12,412.29 L601.41,412.09 L600.71,412.41 L600.00,411.89 L599.29,412.63 L598.57,412.44 L597.86,411.80 L597.14,412.11 L596.43,412.84 L595.71,411.69 L595.00,411.80 L594.29,412.23 L593.57,412.09 L592.86,412.27 L592.14,412.02 L591.43,412.41 L590.71,411.78 L590.00,411.78 L589.29,411.77 L588.57,412.24 L587.86,412.09 L587.14,412.13 L586.43,412.56 L585.71,412.56 L585.00,412.17 L584.29,411.74 L583.57,412.38 L582.86,412.41 L582.14,411.54 L581.43,411.97 L580.71,412.36 L580.00,412.30 L579.29,411.75 L578.57,411.73 L577.86,412.09 L577.14,412.38 L576.43,412.34 L575.71,411.94 L575.00,412.82 L574.29,412.64 L573.57,412.03 L572.86,412.79 L572.14,412.54 L571.43,412.02 L570.71,412.37 L570.00,413.10 L569.29,412.86 L568.57,413.05 L567.86,413.15 L567.14,412.50 L566.43,412.90 L565.71,413.30 L565.00,413.27 L564.29,413.34 L563.57,412.44 L562.86,413.49 L562.14,413.45 L561.43,413.22 L560.71,413.06 L560.00,412.92 L559.29,412.59 L558.57,412.93 L557.86,413.55 L557.14,413.65 L556.43,413.29 L555.71,413.38 L555.00,413.00 L554.29,413.61 L553.57,413.05 L552.86,412.90 L552.14,413.24 L551.43,413.51 L550.71,413.68 L550.00,413.23 L549.29,412.89 L548.57,413.48 L547.86,413.32 L547.14,413.64 L546.43,412.54 L545.71,412.81 L545.00,413.13 L544.29,413.38 L543.57,413.57 L542.86,413.37 L542.14,412.88 L541.43,412.92 L540.71,413.16 L540.00,413.17 L539.28,412.84 L538.56,413.37 L537.84,412.59 L537.13,413.23 L536.41,412.95 L535.69,413.12 L534.97,412.88 L534.25,412.51 L533.53,413.03 L532.82,413.49 L532.10,412.66 L531.38,413.34 L530.66,412.84 L529.94,412.57 L529.22,413.46 L528.51,413.27 L527.79,412.51 L527.07,412.51 L526.35,413.36 L525.63,413.66 L524.91,412.82 L524.19,413.63 L523.48,413.07 L522.76,413.38 L522.04,413.29 L521.32,412.64 L520.60,413.42 L519.88,413.57 L519.17,413.41 L518.45,413.49 L517.73,412.62 L517.01,412.79 L516.29,413.45 L515.57,412.87 L514.86,413.45 L514.14,412.61 L513.42,412.75 L512.70,413.64 Z" fill="#018080" stroke="none" stroke-width="1"/>
<path d="M614.10,391.12 L614.82,391.01 L615.55,390.99 L616.27,391.61 L616.99,392.00 L617.71,391.52 L618.44,392.12 L619.16,392.09 L619.88,391.09 L620.60,391.74 L621.33,391.51 L622.05,391.19 L622.77,392.21 L623.50,391.39 L624.22,391.77 L624.94,391.87 L625.66,392.27 L626.39,391.94 L627.11,391.62 L627.83,391.70 L628.55,391.36 L629.28,392.35 L630.00,392.39 L630.71,391.42 L631.43,391.15 L632.14,391.37 L632.86,391.44 L633.57,392.05 L634.29,392.01 L635.00,391.88 L635.71,390.89 L636.43,391.73 L637.14,391.59 L637.86,391.47 L638.57,391.83 L639.29,390.66 L640.00,390.72 L640.71,391.41 L641.43,391.58 L642.14,391.22 L642.86,390.72 L643.57,391.03 L644.29,391.18 L645.00,390.35 L645.71,390.57 L646.43,390.44 L647.14,390.23 L647.86,390.62 L648.57,390.20 L649.29,390.23 L650.00,390.07 L650.70,390.69 L651.41,389.86 L652.11,390.68 L652.81,390.03 L653.52,389.81 L654.22,390.85 L654.92,389.97 L655.62,390.80 L656.33,390.69 L657.03,390.69 L657.73,389.77 L658.44,390.11 L659.14,389.66 L659.84,390.63 L660.55,390.50 L661.25,390.22 L661.95,389.98 L662.65,389.82 L663.36,390.37 L664.06,389.93 L664.76,390.08 L665.47,389.47 L666.17,389.54 L666.87,389.31 L667.58,390.07 L668.28,389.85 L668.98,389.34 L669.68,390.18 L670.39,389.43 L671.09,389.58 L671.79,389.24 L672.50,389.35 L673.20,389.60 L673.20,411.20 L672.50,411.60 L671.79,411.51 L671.09,410.82 L670.39,411.32 L669.68,411.26 L668.98,411.37 L668.28,410.78 L667.58,411.51 L666.87,411.26 L666.17,411.04 L665.47,411.31 L664.76,411.89 L664.06,411.14 L663.36,411.26 L662.65,412.01 L661.95,411.56 L661.25,412.10 L660.55,411.05 L659.84,411.65 L659.14,412.12 L658.44,412.12 L657.73,411.54 L657.03,412.13 L656.33,411.25 L655.62,412.07 L654.92,411.72 L654.22,412.13 L653.52,411.36 L652.81,411.55 L652.11,412.03 L651.41,412.33 L650.70,412.23 L650.00,412.13 L649.29,411.69 L648.57,411.81 L647.86,412.12 L647.14,412.30 L646.43,411.72 L645.71,411.75 L645.00,411.94 L644.29,412.60 L643.57,412.71 L642.86,412.04 L642.14,412.04 L641.43,412.60 L640.71,412.22 L640.00,413.09 L639.29,412.57 L638.57,412.31 L637.86,412.76 L637.14,413.17 L636.43,412.22 L635.71,412.43 L635.00,412.71 L634.29,413.31 L633.57,412.40 L632.86,413.60 L632.14,412.82 L631.43,413.39 L630.71,412.63 L630.00,413.68 L629.28,412.94 L628.55,412.70 L627.83,413.68 L627.11,413.76 L626.39,413.74 L625.66,412.98 L624.94,412.78 L624.22,412.84 L623.50,412.86 L622.77,413.08 L622.05,412.75 L621.33,413.29 L620.60,413.56 L619.88,412.54 L619.16,413.64 L618.44,412.59 L617.71,413.53 L616.99,412.82 L616.27,413.02 L615.55,412.62 L614.82,412.81 L614.10,413.41 Z" fill="#fd6b6e" stroke="none" stroke-width="1"/>
<rect x="58.00" y="226.50" width="94.80" height="95.30" fill="#dddddd"/>
<rect x="55.20" y="223.50" width="94.40" height="95.50" fill="#ffffff"/>
<line x1="55.90" y1="230.60" x2="77.30" y2="230.60" stroke="#8a8a8a" stroke-width="1.0"/>
<text x="80.40" y="234.10" font-size="9.65" text-anchor="start" fill="#222" font-weight="normal">Cycle every 40s</text>
<line x1="55.90" y1="242.27" x2="77.30" y2="242.27" stroke="#f2a0a2" stroke-width="1.0"/>
<text x="80.40" y="245.77" font-size="9.65" text-anchor="start" fill="#222" font-weight="normal">Cycle every 30s</text>
<line x1="55.90" y1="253.94" x2="77.30" y2="253.94" stroke="#a8a8ee" stroke-width="1.0"/>
<text x="80.40" y="257.44" font-size="9.65" text-anchor="start" fill="#222" font-weight="normal">Cycle every 20s</text>
<line x1="55.90" y1="265.61" x2="77.30" y2="265.61" stroke="#c6be8e" stroke-width="1.0"/>
<text x="80.40" y="269.11" font-size="9.65" text-anchor="start" fill="#222" font-weight="normal">Cycle every 10s</text>
<line x1="55.90" y1="277.28" x2="77.30" y2="277.28" stroke="#cbb8ea" stroke-width="1.0"/>
<text x="80.40" y="280.78" font-size="9.65" text-anchor="start" fill="#222" font-weight="normal">Cycle every 6s</text>
<line x1="55.90" y1="288.95" x2="77.30" y2="288.95" stroke="#bfe3f3" stroke-width="1.0"/>
<text x="80.40" y="292.45" font-size="9.65" text-anchor="start" fill="#222" font-weight="normal">Cycle every 3s</text>
<line x1="55.90" y1="300.62" x2="77.30" y2="300.62" stroke="#93ccc6" stroke-width="1.0"/>
<text x="80.40" y="304.12" font-size="9.65" text-anchor="start" fill="#222" font-weight="normal">Cycle every 2s</text>
<line x1="55.90" y1="312.29" x2="77.30" y2="312.29" stroke="#f3b4b8" stroke-width="1.0"/>
<text x="80.40" y="315.79" font-size="9.65" text-anchor="start" fill="#222" font-weight="normal">Cycle every 1s</text>
<rect x="194.30" y="229.40" width="127.50" height="85.70" fill="#fff"/>
<path d="M194.30,302.86 L194.70,302.26 L195.10,300.50 L195.50,297.65 L195.90,293.81 L196.30,289.14 L196.70,283.82 L197.10,278.07 L197.50,272.11 L197.90,266.19 L198.30,260.53 L198.70,255.35 L199.10,250.87 L199.50,247.27 L199.90,244.68 L200.30,243.20 L200.70,242.90 L201.10,243.79 L201.50,245.84 L201.90,248.95 L202.30,253.01 L202.70,257.86 L203.10,263.31 L203.50,269.13 L203.90,275.10 L204.30,280.99 L204.70,286.55 L205.10,291.56 L205.50,295.84 L205.90,299.20 L206.30,301.52 L206.70,302.71 L207.10,302.71 L207.50,301.52 L207.90,299.20 L208.30,295.84 L208.70,291.56 L209.10,286.55 L209.50,280.99 L209.90,275.10 L210.30,269.13 L210.70,263.31 L211.10,257.86 L211.50,253.01 L211.90,248.95 L212.30,245.84 L212.70,243.79 L213.10,242.90 L213.50,243.20 L213.90,244.68 L214.30,247.27 L214.70,250.87 L215.10,255.35 L215.50,260.53 L215.90,266.19 L216.30,272.11 L216.70,278.07 L217.10,283.82 L217.50,289.14 L217.90,293.81 L218.30,297.65 L218.70,300.50 L219.10,302.26 L219.50,302.86 L219.90,302.26 L220.30,300.50 L220.70,297.65 L221.10,293.81 L221.50,289.14 L221.90,283.82 L222.30,278.07 L222.70,272.11 L223.10,266.19 L223.50,260.53 L223.90,255.35 L224.30,250.87 L224.70,247.27 L225.10,244.68 L225.50,243.20 L225.90,242.90 L226.30,243.79 L226.70,245.84 L227.10,248.95 L227.50,253.01 L227.90,257.86 L228.30,263.31 L228.70,269.13 L229.10,275.10 L229.50,280.99 L229.90,286.55 L230.30,291.56 L230.70,295.84 L231.10,299.20 L231.50,301.52 L231.90,302.71 L232.30,302.71 L232.70,301.52 L233.10,299.20 L233.50,295.84 L233.90,291.56 L234.30,286.55 L234.70,280.99 L235.10,275.10 L235.50,269.13 L235.90,263.31 L236.30,257.86 L236.70,253.01 L237.10,248.95 L237.50,245.84 L237.90,243.79 L238.30,242.90 L238.70,243.20 L239.10,244.68 L239.50,247.27 L239.90,250.87 L240.30,255.35 L240.70,260.53 L241.10,266.19 L241.50,272.11 L241.90,278.07 L242.30,283.82 L242.70,289.14 L243.10,293.81 L243.50,297.65 L243.90,300.50 L244.30,302.26 L244.70,302.86 L245.10,302.26 L245.50,300.50 L245.90,297.65 L246.30,293.81 L246.70,289.14 L247.10,283.82 L247.50,278.07 L247.90,272.11 L248.30,266.19 L248.70,260.53 L249.10,255.35 L249.50,250.87 L249.90,247.27 L250.30,244.68 L250.70,243.20 L251.10,242.90 L251.50,243.79 L251.90,245.84 L252.30,248.95 L252.70,253.01 L253.10,257.86 L253.50,263.31 L253.90,269.13 L254.30,275.10 L254.70,280.99 L255.10,286.55 L255.50,291.56 L255.90,295.84 L256.30,299.20 L256.70,301.52 L257.10,302.71 L257.50,302.71 L257.90,301.52 L258.30,299.20 L258.70,295.84 L259.10,291.56 L259.50,286.55 L259.90,280.99 L260.30,275.10 L260.70,269.13 L261.10,263.31 L261.50,257.86 L261.90,253.01 L262.30,248.95 L262.70,245.84 L263.10,243.79 L263.50,242.90 L263.90,243.20 L264.30,244.68 L264.70,247.27 L265.10,250.87 L265.50,255.35 L265.90,260.53 L266.30,266.19 L266.70,272.11 L267.10,278.07 L267.50,283.82 L267.90,289.14 L268.30,293.81 L268.70,297.65 L269.10,300.50 L269.50,302.26 L269.90,302.86 L270.30,302.26 L270.70,300.50 L271.10,297.65 L271.50,293.81 L271.90,289.14 L272.30,283.82 L272.70,278.07 L273.10,272.11 L273.50,266.19 L273.90,260.53 L274.30,255.35 L274.70,250.87 L275.10,247.27 L275.50,244.68 L275.90,243.20 L276.30,242.90 L276.70,243.79 L277.10,245.84 L277.50,248.95 L277.90,253.01 L278.30,257.86 L278.70,263.31 L279.10,269.13 L279.50,275.10 L279.90,280.99 L280.30,286.55 L280.70,291.56 L281.10,295.84 L281.50,299.20 L281.90,301.52 L282.30,302.71 L282.70,302.71 L283.10,301.52 L283.50,299.20 L283.90,295.84 L284.30,291.56 L284.70,286.55 L285.10,280.99 L285.50,275.10 L285.90,269.13 L286.30,263.31 L286.70,257.86 L287.10,253.01 L287.50,248.95 L287.90,245.84 L288.30,243.79 L288.70,242.90 L289.10,243.20 L289.50,244.68 L289.90,247.27 L290.30,250.87 L290.70,255.35 L291.10,260.53 L291.50,266.19 L291.90,272.11 L292.30,278.07 L292.70,283.82 L293.10,289.14 L293.50,293.81 L293.90,297.65 L294.30,300.50 L294.70,302.26 L295.10,302.86 L295.50,302.26 L295.90,300.50 L296.30,297.65 L296.70,293.81 L297.10,289.14 L297.50,283.82 L297.90,278.07 L298.30,272.11 L298.70,266.19 L299.10,260.53 L299.50,255.35 L299.90,250.87 L300.30,247.27 L300.70,244.68 L301.10,243.20 L301.50,242.90 L301.90,243.79 L302.30,245.84 L302.70,248.95 L303.10,253.01 L303.50,257.86 L303.90,263.31 L304.30,269.13 L304.70,275.10 L305.10,280.99 L305.50,286.55 L305.90,291.56 L306.30,295.84 L306.70,299.20 L307.10,301.52 L307.50,302.71 L307.90,302.71 L308.30,301.52 L308.70,299.20 L309.10,295.84 L309.50,291.56 L309.90,286.55 L310.30,280.99 L310.70,275.10 L311.10,269.13 L311.50,263.31 L311.90,257.86 L312.30,253.01 L312.70,248.95 L313.10,245.84 L313.50,243.79 L313.90,242.90 L314.30,243.20 L314.70,244.68 L315.10,247.27 L315.50,250.87 L315.90,255.35 L316.30,260.53 L316.70,266.19 L317.10,272.11 L317.50,278.07 L317.90,283.82 L318.30,289.14 L318.70,293.81 L319.10,297.65 L319.50,300.50 L319.90,302.26 L320.30,302.86 L320.70,302.26 L321.10,300.50 L321.50,297.65" fill="none" stroke="#2828cc" stroke-width="1.15"/>
<rect x="194.3" y="229.4" width="127.50" height="85.70" fill="none" stroke="#666" stroke-width="0.8"/>
<line x1="192.50" y1="241.64" x2="194.30" y2="241.64" stroke="#666" stroke-width="0.6"/>
<text x="192.00" y="243.74" font-size="6.0" text-anchor="end" fill="#333" font-weight="normal">0.04</text>
<line x1="192.50" y1="266.13" x2="194.30" y2="266.13" stroke="#666" stroke-width="0.6"/>
<text x="192.00" y="268.23" font-size="6.0" text-anchor="end" fill="#333" font-weight="normal">0.02</text>
<line x1="192.50" y1="290.61" x2="194.30" y2="290.61" stroke="#666" stroke-width="0.6"/>
<text x="192.00" y="292.71" font-size="6.0" text-anchor="end" fill="#333" font-weight="normal">0.00</text>
<line x1="192.50" y1="315.10" x2="194.30" y2="315.10" stroke="#666" stroke-width="0.6"/>
<text x="192.00" y="317.20" font-size="6.0" text-anchor="end" fill="#333" font-weight="normal">-0.02</text>
<line x1="230.00" y1="315.10" x2="230.00" y2="316.90" stroke="#666" stroke-width="0.6"/>
<text x="230.00" y="322.90" font-size="6.0" text-anchor="middle" fill="#333" font-weight="normal">10002</text>
<line x1="268.00" y1="315.10" x2="268.00" y2="316.90" stroke="#666" stroke-width="0.6"/>
<text x="268.00" y="322.90" font-size="6.0" text-anchor="middle" fill="#333" font-weight="normal">10005</text>
<line x1="305.70" y1="315.10" x2="305.70" y2="316.90" stroke="#666" stroke-width="0.6"/>
<text x="305.70" y="322.90" font-size="6.0" text-anchor="middle" fill="#333" font-weight="normal">10008</text>
<text transform="translate(173.00,271.75) rotate(-90)" font-size="9.4" text-anchor="middle" fill="#222">ΔR/R<tspan font-size="6.5" dy="2.5">0</tspan></text>
<text x="258.05" y="337.90" font-size="10.3" text-anchor="middle" fill="#555" font-weight="normal">Cycle number</text>
<rect x="367.20" y="229.40" width="127.40" height="85.70" fill="#fff"/>
<path d="M367.20,301.63 L367.60,301.06 L368.00,299.24 L368.40,296.25 L368.80,292.20 L369.20,287.25 L369.60,281.61 L370.00,275.50 L370.40,269.16 L370.80,262.85 L371.20,256.82 L371.60,251.30 L372.00,246.52 L372.40,242.67 L372.80,239.90 L373.20,238.33 L373.60,238.01 L374.00,238.96 L374.40,241.14 L374.80,244.47 L375.20,248.80 L375.60,253.98 L376.00,259.78 L376.40,265.99 L376.80,272.35 L377.20,278.60 L377.60,284.51 L378.00,289.83 L378.40,294.34 L378.80,297.88 L379.20,300.30 L379.60,301.50 L380.00,301.44 L380.40,300.11 L380.80,297.58 L381.20,293.93 L381.60,289.33 L382.00,283.94 L382.40,277.99 L382.80,271.71 L383.20,265.36 L383.60,259.18 L384.00,253.43 L384.40,248.33 L384.80,244.09 L385.20,240.87 L385.60,238.81 L386.00,237.98 L386.40,238.43 L386.80,240.13 L387.20,243.01 L387.60,246.96 L388.00,251.82 L388.40,257.40 L388.80,263.47 L389.20,269.80 L389.60,276.13 L390.00,282.20 L390.40,287.78 L390.80,292.64 L391.20,296.60 L391.60,299.48 L392.00,301.17 L392.40,301.62 L392.80,300.79 L393.20,298.73 L393.60,295.52 L394.00,291.27 L394.40,286.17 L394.80,280.42 L395.20,274.25 L395.60,267.89 L396.00,261.61 L396.40,255.66 L396.80,250.28 L397.20,245.67 L397.60,242.02 L398.00,239.49 L398.40,238.16 L398.80,238.10 L399.20,239.30 L399.60,241.72 L400.00,245.26 L400.40,249.78 L400.80,255.10 L401.20,261.00 L401.60,267.26 L402.00,273.61 L402.40,279.82 L402.80,285.63 L403.20,290.80 L403.60,295.14 L404.00,298.46 L404.40,300.64 L404.80,301.59 L405.20,301.28 L405.60,299.70 L406.00,296.93 L406.40,293.08 L406.80,288.30 L407.20,282.79 L407.60,276.75 L408.00,270.44 L408.40,264.10 L408.80,257.99 L409.20,252.35 L409.60,247.41 L410.00,243.36 L410.40,240.36 L410.80,238.54 L411.20,237.97 L411.60,238.67 L412.00,240.61 L412.40,243.72 L412.80,247.86 L413.20,252.89 L413.60,258.58 L414.00,264.73 L414.40,271.07 L414.80,277.37 L415.20,283.37 L415.60,288.82 L416.00,293.51 L416.40,297.26 L416.80,299.91 L417.20,301.36 L417.60,301.55 L418.00,300.48 L418.40,298.18 L418.80,294.74 L419.20,290.32 L419.60,285.07 L420.00,279.21 L420.40,272.98 L420.80,266.62 L421.20,260.39 L421.60,254.53 L422.00,249.29 L422.40,244.86 L422.80,241.42 L423.20,239.12 L423.60,238.05 L424.00,238.24 L424.40,239.69 L424.80,242.34 L425.20,246.09 L425.60,250.78 L426.00,256.24 L426.40,262.23 L426.80,268.53 L427.20,274.88 L427.60,281.02 L428.00,286.72 L428.40,291.74 L428.80,295.89 L429.20,298.99 L429.60,300.93 L430.00,301.63 L430.40,301.06 L430.80,299.24 L431.20,296.25 L431.60,292.20 L432.00,287.25 L432.40,281.61 L432.80,275.50 L433.20,269.16 L433.60,262.85 L434.00,256.82 L434.40,251.30 L434.80,246.52 L435.20,242.67 L435.60,239.90 L436.00,238.33 L436.40,238.01 L436.80,238.96 L437.20,241.14 L437.60,244.47 L438.00,248.80 L438.40,253.98 L438.80,259.78 L439.20,265.99 L439.60,272.35 L440.00,278.60 L440.40,284.51 L440.80,289.83 L441.20,294.34 L441.60,297.88 L442.00,300.30 L442.40,301.50 L442.80,301.44 L443.20,300.11 L443.60,297.58 L444.00,293.93 L444.40,289.33 L444.80,283.94 L445.20,277.99 L445.60,271.71 L446.00,265.36 L446.40,259.18 L446.80,253.43 L447.20,248.33 L447.60,244.09 L448.00,240.87 L448.40,238.81 L448.80,237.98 L449.20,238.43 L449.60,240.13 L450.00,243.01 L450.40,246.96 L450.80,251.82 L451.20,257.40 L451.60,263.47 L452.00,269.80 L452.40,276.13 L452.80,282.20 L453.20,287.78 L453.60,292.64 L454.00,296.60 L454.40,299.48 L454.80,301.17 L455.20,301.62 L455.60,300.79 L456.00,298.73 L456.40,295.52 L456.80,291.27 L457.20,286.17 L457.60,280.42 L458.00,274.25 L458.40,267.89 L458.80,261.61 L459.20,255.66 L459.60,250.28 L460.00,245.67 L460.40,242.02 L460.80,239.49 L461.20,238.16 L461.60,238.10 L462.00,239.30 L462.40,241.72 L462.80,245.26 L463.20,249.78 L463.60,255.10 L464.00,261.00 L464.40,267.26 L464.80,273.61 L465.20,279.82 L465.60,285.63 L466.00,290.80 L466.40,295.14 L466.80,298.46 L467.20,300.64 L467.60,301.59 L468.00,301.28 L468.40,299.70 L468.80,296.93 L469.20,293.08 L469.60,288.30 L470.00,282.79 L470.40,276.75 L470.80,270.44 L471.20,264.10 L471.60,257.99 L472.00,252.35 L472.40,247.41 L472.80,243.36 L473.20,240.36 L473.60,238.54 L474.00,237.97 L474.40,238.67 L474.80,240.61 L475.20,243.72 L475.60,247.86 L476.00,252.89 L476.40,258.58 L476.80,264.73 L477.20,271.07 L477.60,277.37 L478.00,283.37 L478.40,288.82 L478.80,293.51 L479.20,297.26 L479.60,299.91 L480.00,301.36 L480.40,301.55 L480.80,300.48 L481.20,298.18 L481.60,294.74 L482.00,290.32 L482.40,285.07 L482.80,279.21 L483.20,272.98 L483.60,266.62 L484.00,260.39 L484.40,254.53 L484.80,249.29 L485.20,244.86 L485.60,241.42 L486.00,239.12 L486.40,238.05 L486.80,238.24 L487.20,239.69 L487.60,242.34 L488.00,246.09 L488.40,250.78 L488.80,256.24 L489.20,262.23 L489.60,268.53 L490.00,274.88 L490.40,281.02 L490.80,286.72 L491.20,291.74 L491.60,295.89 L492.00,298.99 L492.40,300.93 L492.80,301.63 L493.20,301.06 L493.60,299.24 L494.00,296.25 L494.40,292.20" fill="none" stroke="#a878e0" stroke-width="1.15"/>
<rect x="367.2" y="229.4" width="127.40" height="85.70" fill="none" stroke="#666" stroke-width="0.8"/>
<line x1="365.40" y1="241.64" x2="367.20" y2="241.64" stroke="#666" stroke-width="0.6"/>
<text x="364.90" y="243.74" font-size="6.0" text-anchor="end" fill="#333" font-weight="normal">0.06</text>
<line x1="365.40" y1="266.13" x2="367.20" y2="266.13" stroke="#666" stroke-width="0.6"/>
<text x="364.90" y="268.23" font-size="6.0" text-anchor="end" fill="#333" font-weight="normal">0.04</text>
<line x1="365.40" y1="290.61" x2="367.20" y2="290.61" stroke="#666" stroke-width="0.6"/>
<text x="364.90" y="292.71" font-size="6.0" text-anchor="end" fill="#333" font-weight="normal">0.02</text>
<line x1="365.40" y1="315.10" x2="367.20" y2="315.10" stroke="#666" stroke-width="0.6"/>
<text x="364.90" y="317.20" font-size="6.0" text-anchor="end" fill="#333" font-weight="normal">0.00</text>
<line x1="373.40" y1="315.10" x2="373.40" y2="316.90" stroke="#666" stroke-width="0.6"/>
<text x="373.40" y="322.90" font-size="6.0" text-anchor="middle" fill="#333" font-weight="normal">30000</text>
<line x1="412.60" y1="315.10" x2="412.60" y2="316.90" stroke="#666" stroke-width="0.6"/>
<text x="412.60" y="322.90" font-size="6.0" text-anchor="middle" fill="#333" font-weight="normal">30003</text>
<line x1="450.90" y1="315.10" x2="450.90" y2="316.90" stroke="#666" stroke-width="0.6"/>
<text x="450.90" y="322.90" font-size="6.0" text-anchor="middle" fill="#333" font-weight="normal">30006</text>
<line x1="486.90" y1="315.10" x2="486.90" y2="316.90" stroke="#666" stroke-width="0.6"/>
<text x="486.90" y="322.90" font-size="6.0" text-anchor="middle" fill="#333" font-weight="normal">30009</text>
<text transform="translate(345.90,271.75) rotate(-90)" font-size="9.4" text-anchor="middle" fill="#222">ΔR/R<tspan font-size="6.5" dy="2.5">0</tspan></text>
<text x="430.90" y="337.90" font-size="10.3" text-anchor="middle" fill="#555" font-weight="normal">Cycle number</text>
<rect x="539.70" y="228.70" width="126.30" height="86.70" fill="#fff"/>
<path d="M539.70,305.69 L540.10,301.65 L540.50,296.59 L540.90,290.72 L541.30,284.25 L541.70,277.44 L542.10,270.55 L542.50,263.86 L542.90,257.61 L543.30,252.06 L543.70,247.41 L544.10,243.86 L544.50,241.52 L544.90,240.51 L545.30,240.85 L545.70,242.53 L546.10,245.49 L546.50,249.61 L546.90,254.74 L547.30,260.66 L547.70,267.17 L548.10,273.99 L548.50,280.87 L548.90,287.54 L549.30,293.74 L549.70,299.23 L550.10,303.80 L550.50,307.27 L550.90,309.51 L551.30,310.42 L551.70,309.98 L552.10,308.20 L552.50,305.15 L552.90,300.95 L553.30,295.76 L553.70,289.78 L554.10,283.24 L554.50,276.41 L554.90,269.53 L555.30,262.89 L555.70,256.73 L556.10,251.30 L556.50,246.81 L556.90,243.43 L557.30,241.29 L557.70,240.47 L558.10,241.02 L558.50,242.90 L558.90,246.04 L559.30,250.32 L559.70,255.58 L560.10,261.61 L560.50,268.18 L560.90,275.02 L561.30,281.89 L561.70,288.51 L562.10,294.62 L562.50,299.98 L562.90,304.40 L563.30,307.69 L563.70,309.73 L564.10,310.45 L564.50,309.80 L564.90,307.82 L565.30,304.59 L565.70,300.23 L566.10,294.90 L566.50,288.83 L566.90,282.23 L567.30,275.37 L567.70,268.51 L568.10,261.93 L568.50,255.86 L568.90,250.56 L569.30,246.23 L569.70,243.02 L570.10,241.08 L570.50,240.47 L570.90,241.21 L571.30,243.29 L571.70,246.61 L572.10,251.05 L572.50,256.44 L572.90,262.57 L573.30,269.19 L573.70,276.06 L574.10,282.91 L574.50,289.46 L574.90,295.47 L575.30,300.71 L575.70,304.97 L576.10,308.08 L576.50,309.93 L576.90,310.44 L577.30,309.59 L577.70,307.42 L578.10,304.00 L578.50,299.49 L578.90,294.04 L579.30,287.86 L579.70,281.21 L580.10,274.33 L580.50,267.50 L580.90,260.98 L581.30,255.02 L581.70,249.85 L582.10,245.67 L582.50,242.65 L582.90,240.90 L583.30,240.49 L583.70,241.44 L584.10,243.71 L584.50,247.21 L584.90,251.81 L585.30,257.32 L585.70,263.53 L586.10,270.21 L586.50,277.09 L586.90,283.91 L587.30,290.40 L587.70,296.31 L588.10,301.42 L588.50,305.51 L588.90,308.44 L589.30,310.09 L589.70,310.39 L590.10,309.34 L590.50,306.98 L590.90,303.39 L591.30,298.72 L591.70,293.15 L592.10,286.89 L592.50,280.19 L592.90,273.30 L593.30,266.50 L593.70,260.04 L594.10,254.18 L594.50,249.15 L594.90,245.14 L595.30,242.30 L595.70,240.75 L596.10,240.55 L596.50,241.70 L596.90,244.16 L597.30,247.83 L597.70,252.58 L598.10,258.21 L598.50,264.51 L598.90,271.24 L599.30,278.13 L599.70,284.91 L600.10,291.33 L600.50,297.14 L600.90,302.10 L601.30,306.03 L601.70,308.77 L602.10,310.22 L602.50,310.32 L602.90,309.07 L603.30,306.52 L603.70,302.76 L604.10,297.94 L604.50,292.25 L604.90,285.91 L605.30,279.16 L605.70,272.27 L606.10,265.50 L606.50,259.12 L606.90,253.37 L607.30,248.48 L607.70,244.64 L608.10,241.99 L608.50,240.64 L608.90,240.64 L609.30,241.99 L609.70,244.64 L610.10,248.48 L610.50,253.37 L610.90,259.12 L611.30,265.50 L611.70,272.27 L612.10,279.16 L612.50,285.91 L612.90,292.25 L613.30,297.94 L613.70,302.76 L614.10,306.52 L614.50,309.07 L614.90,310.32 L615.30,310.22 L615.70,308.77 L616.10,306.03 L616.50,302.10 L616.90,297.14 L617.30,291.33 L617.70,284.91 L618.10,278.13 L618.50,271.24 L618.90,264.51 L619.30,258.21 L619.70,252.58 L620.10,247.83 L620.50,244.16 L620.90,241.70 L621.30,240.55 L621.70,240.75 L622.10,242.30 L622.50,245.14 L622.90,249.15 L623.30,254.18 L623.70,260.04 L624.10,266.50 L624.50,273.30 L624.90,280.19 L625.30,286.89 L625.70,293.15 L626.10,298.72 L626.50,303.39 L626.90,306.98 L627.30,309.34 L627.70,310.39 L628.10,310.09 L628.50,308.44 L628.90,305.51 L629.30,301.42 L629.70,296.31 L630.10,290.40 L630.50,283.91 L630.90,277.09 L631.30,270.21 L631.70,263.53 L632.10,257.32 L632.50,251.81 L632.90,247.21 L633.30,243.71 L633.70,241.44 L634.10,240.49 L634.50,240.90 L634.90,242.65 L635.30,245.67 L635.70,249.85 L636.10,255.02 L636.50,260.98 L636.90,267.50 L637.30,274.33 L637.70,281.21 L638.10,287.86 L638.50,294.04 L638.90,299.49 L639.30,304.00 L639.70,307.42 L640.10,309.59 L640.50,310.44 L640.90,309.93 L641.30,308.08 L641.70,304.97 L642.10,300.71 L642.50,295.47 L642.90,289.46 L643.30,282.91 L643.70,276.06 L644.10,269.19 L644.50,262.57 L644.90,256.44 L645.30,251.05 L645.70,246.61 L646.10,243.29 L646.50,241.21 L646.90,240.47 L647.30,241.08 L647.70,243.02 L648.10,246.23 L648.50,250.56 L648.90,255.86 L649.30,261.93 L649.70,268.51 L650.10,275.37 L650.50,282.23 L650.90,288.83 L651.30,294.90 L651.70,300.23 L652.10,304.59 L652.50,307.82 L652.90,309.80 L653.30,310.45 L653.70,309.73 L654.10,307.69 L654.50,304.40 L654.90,299.98 L655.30,294.62 L655.70,288.51 L656.10,281.89 L656.50,275.02 L656.90,268.18 L657.30,261.61 L657.70,255.58 L658.10,250.32 L658.50,246.04 L658.90,242.90 L659.30,241.02 L659.70,240.47 L660.10,241.29 L660.50,243.43 L660.90,246.81 L661.30,251.30 L661.70,256.73 L662.10,262.89 L662.50,269.53 L662.90,276.41 L663.30,283.24 L663.70,289.78 L664.10,295.76 L664.50,300.95 L664.90,305.15 L665.30,308.20 L665.70,309.98" fill="none" stroke="#e87a7a" stroke-width="1.15"/>
<rect x="539.7" y="228.7" width="126.30" height="86.70" fill="none" stroke="#666" stroke-width="0.8"/>
<line x1="537.90" y1="241.09" x2="539.70" y2="241.09" stroke="#666" stroke-width="0.6"/>
<text x="537.40" y="243.19" font-size="6.0" text-anchor="end" fill="#333" font-weight="normal">0.06</text>
<line x1="537.90" y1="265.86" x2="539.70" y2="265.86" stroke="#666" stroke-width="0.6"/>
<text x="537.40" y="267.96" font-size="6.0" text-anchor="end" fill="#333" font-weight="normal">0.04</text>
<line x1="537.90" y1="290.63" x2="539.70" y2="290.63" stroke="#666" stroke-width="0.6"/>
<text x="537.40" y="292.73" font-size="6.0" text-anchor="end" fill="#333" font-weight="normal">0.02</text>
<line x1="537.90" y1="315.40" x2="539.70" y2="315.40" stroke="#666" stroke-width="0.6"/>
<text x="537.40" y="317.50" font-size="6.0" text-anchor="end" fill="#333" font-weight="normal">0.00</text>
<line x1="565.40" y1="315.40" x2="565.40" y2="317.20" stroke="#666" stroke-width="0.6"/>
<text x="565.40" y="323.20" font-size="6.0" text-anchor="middle" fill="#333" font-weight="normal">50025</text>
<line x1="602.70" y1="315.40" x2="602.70" y2="317.20" stroke="#666" stroke-width="0.6"/>
<text x="602.70" y="323.20" font-size="6.0" text-anchor="middle" fill="#333" font-weight="normal">50028</text>
<line x1="639.80" y1="315.40" x2="639.80" y2="317.20" stroke="#666" stroke-width="0.6"/>
<text x="639.80" y="323.20" font-size="6.0" text-anchor="middle" fill="#333" font-weight="normal">50031</text>
<text transform="translate(518.40,271.55) rotate(-90)" font-size="9.4" text-anchor="middle" fill="#222">ΔR/R<tspan font-size="6.5" dy="2.5">0</tspan></text>
<text x="602.85" y="338.20" font-size="10.3" text-anchor="middle" fill="#555" font-weight="normal">Cycle number</text>
<rect x="50.3" y="218.7" width="626.30" height="215.10" fill="none" stroke="#111" stroke-width="1.8"/>
<line x1="46.70" y1="415.10" x2="50.30" y2="415.10" stroke="#111" stroke-width="1.1"/>
<text x="43.40" y="419.10" font-size="11.3" text-anchor="end" fill="#222" font-weight="normal">0</text>
<line x1="46.70" y1="375.80" x2="50.30" y2="375.80" stroke="#111" stroke-width="1.1"/>
<text x="43.40" y="379.80" font-size="11.3" text-anchor="end" fill="#222" font-weight="normal">0.1</text>
<line x1="46.70" y1="336.50" x2="50.30" y2="336.50" stroke="#111" stroke-width="1.1"/>
<text x="43.40" y="340.50" font-size="11.3" text-anchor="end" fill="#222" font-weight="normal">0.2</text>
<line x1="46.70" y1="297.20" x2="50.30" y2="297.20" stroke="#111" stroke-width="1.1"/>
<text x="43.40" y="301.20" font-size="11.3" text-anchor="end" fill="#222" font-weight="normal">0.3</text>
<line x1="46.70" y1="257.90" x2="50.30" y2="257.90" stroke="#111" stroke-width="1.1"/>
<text x="43.40" y="261.90" font-size="11.3" text-anchor="end" fill="#222" font-weight="normal">0.4</text>
<line x1="46.70" y1="218.60" x2="50.30" y2="218.60" stroke="#111" stroke-width="1.1"/>
<text x="43.40" y="222.60" font-size="11.3" text-anchor="end" fill="#222" font-weight="normal">0.5</text>
<line x1="48.10" y1="395.45" x2="50.30" y2="395.45" stroke="#111" stroke-width="1.0"/>
<line x1="48.10" y1="356.15" x2="50.30" y2="356.15" stroke="#111" stroke-width="1.0"/>
<line x1="48.10" y1="316.85" x2="50.30" y2="316.85" stroke="#111" stroke-width="1.0"/>
<line x1="48.10" y1="277.55" x2="50.30" y2="277.55" stroke="#111" stroke-width="1.0"/>
<line x1="48.10" y1="238.25" x2="50.30" y2="238.25" stroke="#111" stroke-width="1.0"/>
<line x1="61.20" y1="433.80" x2="61.20" y2="437.40" stroke="#111" stroke-width="1.1"/>
<text x="61.80" y="454.50" font-size="11.3" text-anchor="middle" fill="#222" font-weight="normal">0</text>
<line x1="179.60" y1="433.80" x2="179.60" y2="437.40" stroke="#111" stroke-width="1.1"/>
<text x="178.30" y="454.50" font-size="11.3" text-anchor="middle" fill="#222" font-weight="normal">10000</text>
<line x1="298.00" y1="433.80" x2="298.00" y2="437.40" stroke="#111" stroke-width="1.1"/>
<text x="296.70" y="454.50" font-size="11.3" text-anchor="middle" fill="#222" font-weight="normal">20000</text>
<line x1="416.40" y1="433.80" x2="416.40" y2="437.40" stroke="#111" stroke-width="1.1"/>
<text x="415.10" y="454.50" font-size="11.3" text-anchor="middle" fill="#222" font-weight="normal">30000</text>
<line x1="534.80" y1="433.80" x2="534.80" y2="437.40" stroke="#111" stroke-width="1.1"/>
<text x="533.50" y="454.50" font-size="11.3" text-anchor="middle" fill="#222" font-weight="normal">40000</text>
<line x1="653.20" y1="433.80" x2="653.20" y2="437.40" stroke="#111" stroke-width="1.1"/>
<text x="651.90" y="454.50" font-size="11.3" text-anchor="middle" fill="#222" font-weight="normal">50000</text>
<line x1="120.40" y1="433.80" x2="120.40" y2="436.00" stroke="#111" stroke-width="1.0"/>
<line x1="238.80" y1="433.80" x2="238.80" y2="436.00" stroke="#111" stroke-width="1.0"/>
<line x1="357.20" y1="433.80" x2="357.20" y2="436.00" stroke="#111" stroke-width="1.0"/>
<line x1="475.60" y1="433.80" x2="475.60" y2="436.00" stroke="#111" stroke-width="1.0"/>
<line x1="594.00" y1="433.80" x2="594.00" y2="436.00" stroke="#111" stroke-width="1.0"/>
<text x="359.50" y="465.00" font-size="17.5" text-anchor="middle" fill="#111" font-weight="normal">Cycles</text>
<text transform="translate(18.6,323) rotate(-90)" font-size="17.6" text-anchor="middle" fill="#111">ΔR/R<tspan font-size="12.8" dy="4.9">0</tspan></text>
<text x="4.60" y="490.10" font-size="20.5" text-anchor="start" fill="#000" font-weight="bold">e</text>
<rect x="35.3" y="487.5" width="222.7" height="234.3" fill="#fff" stroke="#000" stroke-width="4"/>
<g clip-path="url(#c1)">
<rect x="40.00" y="493.20" width="109.20" height="105.60" fill="url(#bg1)"/>
<path d="M66,552 L127,546 L122,599 L68,599 Z" fill="url(#cylL)" stroke="none" stroke-width="1"/>
<path d="M64.5,560 C63,540 64,520 66.5,513 C70,509 85,508.5 100,509 C112,508.5 124,510 126,513 C128.5,520 128.5,535 127.5,547 C110,549 85,553 64.5,560 Z" fill="url(#cap1)" stroke="none" stroke-width="1"/>
<path d="M98.5,520.5 L110.5,529.5 L106,546.5 L94,538.5 Z" fill="#4e4e4e" stroke="none" stroke-width="1" opacity="0.75"/>
<path d="M86.5,526 L98.5,520.5 L94,538.5 L90,543 Z" fill="none" stroke="#383838" stroke-width="0.9" opacity="0.85"/>
<path d="M98.5,520.5 L110.5,529.5 L106,546.5" fill="none" stroke="#303030" stroke-width="0.9"/>
<path d="M73.5,548.5 L81,555 L77,565 L68.5,559 Z" fill="#3c3c3c" stroke="none" stroke-width="1" opacity="0.85"/>
<path d="M67,549 L75,541.5 L81,551" fill="none" stroke="#333" stroke-width="0.9" fill="none"/>
<path d="M119,538 L127.5,536 L127.5,552 L120,553 Z" fill="#4a4a4a" stroke="none" stroke-width="1" opacity="0.7"/>
<path d="M66,514 L69.5,524 L67.5,536" fill="none" stroke="#333" stroke-width="1.2" fill="none"/>
<path d="M80,510 L95,510.5 M104,511 L112,513" fill="none" stroke="#333" stroke-width="1.0"/>
<path d="M68,566 C85,563 100,562 122,560" fill="none" stroke="#efefef" stroke-width="1.0" fill="none" opacity="0.7"/>
<path d="M68,569 C85,566 100,573 122,571" fill="none" stroke="#8a8a8a" stroke-width="0.8" fill="none" opacity="0.35"/>
<path d="M68,573 C85,570 100,570 122,568" fill="none" stroke="#f2f2f2" stroke-width="1.0" fill="none" opacity="0.6"/>
<path d="M68,577 C85,574 100,582 122,580" fill="none" stroke="#909090" stroke-width="0.8" fill="none" opacity="0.3"/>
<path d="M68,582 C85,579 100,580 122,578" fill="none" stroke="#f0f0f0" stroke-width="1.2" fill="none" opacity="0.6"/>
<path d="M68,587 C85,584 100,592 122,590" fill="none" stroke="#8c8c8c" stroke-width="0.8" fill="none" opacity="0.3"/>
<path d="M68,592 C85,589 100,591 122,589" fill="none" stroke="#eeeeee" stroke-width="1.0" fill="none" opacity="0.6"/>
<path d="M68,596 C85,593 100,600 122,598" fill="none" stroke="#999" stroke-width="0.8" fill="none" opacity="0.3"/>
<path d="M82,556 L95,599" fill="none" stroke="#f4f4f4" stroke-width="2.5" fill="none" opacity="0.35" filter="url(#bl1)"/>
</g>
<rect x="126.30" y="592.70" width="18.80" height="2.40" fill="#ffffff"/>
<text x="135.20" y="589.00" font-size="8.4" text-anchor="middle" fill="#ffffff" font-weight="normal">5 mm</text>
<g clip-path="url(#c2)">
<rect x="149.00" y="493.20" width="105.70" height="105.60" fill="url(#bg2)"/>
<path d="M174,548 L227,548 L224,599 L177,599 Z" fill="url(#cylL)" stroke="none" stroke-width="1"/>
<path d="M173.5,540 C171,552 173,565 176,575 C190,570 210,569 226,570 C228,560 228,550 226,540 Z" fill="url(#cap2)" stroke="none" stroke-width="1"/>
<ellipse cx="199.2" cy="528.2" rx="29.0" ry="26.0" fill="url(#bub)"/>
<path d="M178.5,511 C184,505 191,502.2 199.2,502.2 C207,502.2 214,505 220,511 C213,508.5 206,508 199.2,508 C192,508 185,508.5 178.5,511 Z" fill="#4c4c4c" stroke="none" stroke-width="1" opacity="0.92"/>
<ellipse cx="193" cy="539" rx="5" ry="3" fill="#ececec" opacity="0.8" filter="url(#bl1)"/>
<path d="M172,519.3 L179.2,529.6 M181.2,529.8 L190.5,519.3" fill="none" stroke="#564646" stroke-width="2.3" fill="none"/>
<path d="M194.5,517.3 C200,516.4 208,516.6 213.7,518.2" fill="none" stroke="#5e4c4c" stroke-width="2.4" fill="none"/>
<path d="M217.1,519.3 L225.3,529.8 L227.6,524" fill="none" stroke="#4a4040" stroke-width="2.0" fill="none"/>
<path d="M203,548 L212,556 L208,568 L199,561 Z" fill="#4a4a4a" stroke="none" stroke-width="1" opacity="0.7"/>
<path d="M192,556 L200,547 L212,555" fill="none" stroke="#333" stroke-width="0.9" fill="none"/>
<path d="M180,566 L186,572 L183,582 L177,575 Z" fill="#404040" stroke="none" stroke-width="1" opacity="0.8"/>
<path d="M215,560 L226,558 L226,572 L217,573 Z" fill="#555" stroke="none" stroke-width="1" opacity="0.7"/>
</g>
<path d="M176.56,509.03 L165.80,499.77 L169.39,495.60 L157.40,496.50 L158.30,508.49 L161.89,504.32 L172.64,513.57 L172.70,509.67 Z" fill="#86cd4e" stroke="none" stroke-width="1"/>
<path d="M226.33,513.67 L237.61,504.97 L240.97,509.32 L242.50,497.40 L230.58,495.87 L233.94,500.22 L222.67,508.93 L226.48,509.77 Z" fill="#86cd4e" stroke="none" stroke-width="1"/>
<path d="M174.00,539.00 L161.90,539.00 L161.90,533.50 L153.40,542.00 L161.90,550.50 L161.90,545.00 L174.00,545.00 L171.50,542.00 Z" fill="#86cd4e" stroke="none" stroke-width="1"/>
<path d="M230.20,545.00 L243.00,545.00 L243.00,550.50 L251.50,542.00 L243.00,533.50 L243.00,539.00 L230.20,539.00 L232.70,542.00 Z" fill="#86cd4e" stroke="none" stroke-width="1"/>
<rect x="231.80" y="593.20" width="14.80" height="2.40" fill="#ffffff"/>
<text x="239.50" y="588.60" font-size="8.4" text-anchor="middle" fill="#ffffff" font-weight="normal">5 mm</text>
<g clip-path="url(#c3)">
<rect x="39.00" y="611.70" width="110.80" height="105.60" fill="#23272d"/>
<g filter="url(#bl3)">
<ellipse cx="98" cy="620" rx="28" ry="11" fill="#4a525c" opacity="0.9"/>
<ellipse cx="52" cy="662" rx="9" ry="28" fill="#6a6e72" opacity="0.8"/>
<ellipse cx="100" cy="712" rx="20" ry="8" fill="#3a4250" opacity="0.8"/>
<path d="M124,605 L160,605 L160,725 L112,725 C116,700 119,680 120,660 C121,640 122,625 124,605 Z" fill="#a4a6a2" stroke="none" stroke-width="1"/>
<ellipse cx="100" cy="716" rx="18" ry="6" fill="#70767c" opacity="0.8"/>
</g>
<path d="M50,684 C58,696 70,702 86,704" fill="none" stroke="#c8cccc" stroke-width="4.5" fill="none" opacity="0.9" filter="url(#bl2)"/>
<circle cx="92.7" cy="666.4" r="35.2" fill="#d9dbda"/>
<circle cx="92.7" cy="666.4" r="35.2" fill="url(#ring3)"/>
<path d="M86.8,640.2 L116.4,663.9 L94.4,692.7 L66.5,669 Z" fill="none" stroke="#2e2e2e" stroke-width="1.2" fill="#d4d6d6" stroke-dasharray="6,2.6"/>
<circle cx="90.5" cy="664.7" r="11.4" fill="#3a2c2c"/>
<path d="M96,631 L124,656" fill="none" stroke="#2e2e2e" stroke-width="1.4" stroke-dasharray="5,2.5"/>
<path d="M62,683 L86,703" fill="none" stroke="#2e2e2e" stroke-width="1.4" stroke-dasharray="5,2.5"/>
</g>
<rect x="123.20" y="711.30" width="19.10" height="2.40" fill="#ffffff"/>
<text x="131.90" y="708.30" font-size="8.4" text-anchor="middle" fill="#ffffff" font-weight="normal">5 mm</text>
<g clip-path="url(#c4)">
<rect x="150.10" y="612.10" width="103.80" height="104.60" fill="#22262e"/>
<rect x="150.1" y="612.1" width="103.8" height="104.6" fill="url(#bg4)"/>
<g filter="url(#bl2)">
<path d="M237,605 L262,605 L262,725 L232,725 C238,690 241,660 237,605 Z" fill="#9ea2a2" stroke="none" stroke-width="1"/>
</g>
<ellipse cx="158" cy="665" rx="8" ry="35" fill="#5c6064" opacity="0.6" filter="url(#bl3)"/>
<ellipse cx="205" cy="618" rx="35" ry="8" fill="#3e4858" opacity="0.7" filter="url(#bl3)"/>
<ellipse cx="203.2" cy="665.4" rx="38.2" ry="40.2" fill="#e6e6e6"/>
<ellipse cx="203.2" cy="665.4" rx="38.2" ry="40.2" fill="none" stroke="#666" stroke-width="0.7" opacity="0.6"/>
<ellipse cx="202.0" cy="663.4" rx="30.0" ry="31.6" fill="url(#disk4)"/>
</g>
<path d="M181.56,639.32 L172.23,630.47 L176.02,626.48 L164.00,626.80 L164.32,638.82 L168.10,634.83 L177.44,643.68 L177.69,639.78 Z" fill="#86cd4e" stroke="none" stroke-width="1"/>
<path d="M231.58,643.56 L240.43,634.23 L244.42,638.02 L244.10,626.00 L232.08,626.32 L236.07,630.10 L227.22,639.44 L231.12,639.69 Z" fill="#86cd4e" stroke="none" stroke-width="1"/>
<path d="M179.20,685.87 L169.13,694.89 L165.46,690.80 L164.80,702.80 L176.80,703.46 L173.13,699.36 L183.20,690.33 L179.34,689.77 Z" fill="#86cd4e" stroke="none" stroke-width="1"/>
<path d="M221.69,692.03 L231.68,701.04 L228.00,705.12 L240.00,704.50 L239.38,692.50 L235.70,696.58 L225.71,687.57 L225.56,691.47 Z" fill="#86cd4e" stroke="none" stroke-width="1"/>
<rect x="232.70" y="712.40" width="17.90" height="2.40" fill="#ffffff"/>
<text x="242.00" y="708.00" font-size="8.4" text-anchor="middle" fill="#ffffff" font-weight="normal">5 mm</text>
<text x="273.60" y="491.50" font-size="19" text-anchor="start" fill="#000" font-weight="bold">f</text>
<path d="M322.90,623.26 L323.70,626.87 L324.50,631.15 L325.50,634.92 L326.50,639.18 L327.47,640.69 L328.43,643.26 L329.40,645.32 L330.28,646.76 L331.16,648.53 L332.04,650.30 L332.92,652.07 L333.80,653.46 L334.68,655.01 L335.56,655.37 L336.44,656.22 L337.32,657.04 L338.20,658.03 L339.08,659.00 L339.96,659.03 L340.84,659.66 L341.72,660.66 L342.60,660.89 L344.10,660.76 L345.50,656.17 L346.47,657.82 L347.43,659.45 L348.40,661.24 L349.37,662.79 L350.33,665.29 L351.30,667.15 L352.14,667.30 L352.99,667.96 L353.83,668.84 L354.67,669.46 L355.51,669.92 L356.36,670.42 L357.20,671.23 L358.03,671.37 L358.86,672.02 L359.69,672.54 L360.51,672.37 L361.34,672.99 L362.17,673.44 L363.00,673.37 L363.83,674.00 L364.66,674.25 L365.49,674.04 L366.31,674.23 L367.14,674.69 L367.97,674.65 L368.80,674.73 L369.64,675.24 L370.49,675.25 L371.33,675.07 L372.17,675.13 L373.01,675.33 L373.86,675.53 L374.70,676.04 L375.53,675.78 L376.36,675.73 L377.19,675.53 L378.01,675.43 L378.84,674.74 L379.67,674.94 L380.50,675.12 L381.34,674.82 L382.19,674.05 L383.03,673.89 L383.87,673.75 L384.71,673.28 L385.56,673.11 L386.40,672.50 L387.23,672.12 L388.06,671.55 L388.89,670.58 L389.71,670.03 L390.54,669.99 L391.37,669.22 L392.20,668.71 L393.03,667.45 L393.86,666.53 L394.69,665.54 L395.51,664.50 L396.34,662.86 L397.17,662.24 L398.00,660.94 L398.84,660.40 L399.69,659.28 L400.53,658.64 L401.37,658.08 L402.21,657.04 L403.06,655.95 L403.90,655.31 L404.87,655.05 L405.83,655.22 L406.80,654.55 L407.77,655.23 L408.73,656.14 L409.70,656.43 L410.53,657.18 L411.36,657.85 L412.19,657.95 L413.01,658.20 L413.84,658.75 L414.67,659.21 L415.50,659.35 L416.34,659.14 L417.19,658.94 L418.03,658.86 L418.87,658.73 L419.71,658.45 L420.56,658.22 L421.40,657.91 L422.37,655.80 L423.33,653.57 L424.30,650.98 L425.27,650.45 L426.23,650.01 L427.20,649.19 L428.17,650.51 L429.13,651.31 L430.10,652.33 L431.10,654.35 L432.10,656.21 L433.10,658.07 L434.07,658.69 L435.03,659.34 L436.00,660.21 L436.97,659.92 L437.93,659.86 L438.90,659.26 L439.87,660.30 L440.83,661.45 L441.80,661.82 L442.64,662.45 L443.49,662.82 L444.33,663.09 L445.17,664.00 L446.01,663.93 L446.86,664.68 L447.70,664.66 L448.53,664.88 L449.36,665.73 L450.19,665.72 L451.01,665.74 L451.84,666.25 L452.67,666.57 L453.50,667.06 L454.33,666.84 L455.16,667.14 L455.99,667.86 L456.81,667.92 L457.64,667.73 L458.47,668.07 L459.30,668.30 L460.14,668.94 L460.99,669.31 L461.83,669.89 L462.67,670.28 L463.51,670.48 L464.36,671.05 L465.20,671.47 L466.03,671.81 L466.86,671.94 L467.69,672.49 L468.51,672.76 L469.34,673.23 L470.17,673.01 L471.00,673.86 L471.84,673.42 L472.69,674.13 L473.53,674.17 L474.37,674.28 L475.21,674.78 L476.06,674.68 L476.90,674.74 L477.73,675.03 L478.56,675.12 L479.39,674.96 L480.21,674.83 L481.04,674.91 L481.87,674.94 L482.70,675.16 L483.52,675.06 L484.35,675.32 L485.18,675.64 L486.00,675.72 L486.86,675.35 L487.71,675.34 L488.57,675.06 L489.43,674.49 L490.29,674.12 L491.14,673.61 L492.00,673.36 L492.86,673.08 L493.71,673.21 L494.57,673.04 L495.43,672.53 L496.29,672.94 L497.14,672.35 L498.00,672.54 L498.84,671.98 L499.69,671.51 L500.53,670.42 L501.37,670.02 L502.21,669.80 L503.06,668.61 L503.90,668.08 L504.76,668.23 L505.61,667.97 L506.47,668.05 L507.33,667.73 L508.19,667.36 L509.04,667.46 L509.90,666.91 L510.76,666.83 L511.61,666.86 L512.47,666.57 L513.33,666.46 L514.19,666.54 L515.04,666.28 L515.90,666.61 L516.72,666.34 L517.54,666.15 L518.35,665.77 L519.17,665.88 L519.99,665.82 L520.81,665.85 L521.63,665.78 L522.45,665.91 L523.26,665.89 L524.08,665.47 L524.90,665.36 L525.72,665.57 L526.54,665.91 L527.35,665.54 L528.17,665.75 L528.99,666.03 L529.81,665.66 L530.63,665.85 L531.45,666.39 L532.26,666.36 L533.08,666.23 L533.90,666.03 L534.76,666.66 L535.61,666.60 L536.47,666.78 L537.33,666.99 L538.19,667.00 L539.04,666.76 L539.90,666.66 L540.71,666.75 L541.52,666.91 L542.33,666.90 L543.14,666.68 L543.95,666.68 L544.75,666.99 L545.56,666.97 L546.37,666.80 L547.18,667.25 L547.99,667.00 L548.80,666.58 L549.62,666.89 L550.44,667.21 L551.25,666.93 L552.07,667.25 L552.89,666.83 L553.71,667.09 L554.53,667.52 L555.35,667.40 L556.16,667.51 L556.98,667.23 L557.80,667.50 L558.70,668.02 L559.60,668.30 L560.50,669.04 L561.40,669.44 L562.30,670.25 L563.20,670.55 L564.10,671.04 L565.00,671.44 L565.90,672.06 L566.80,673.08 L567.62,672.62 L568.44,672.62 L569.25,672.67 L570.07,672.92 L570.89,673.13 L571.71,672.98 L572.53,673.11 L573.35,672.59 L574.16,672.56 L574.98,673.09 L575.80,672.78 L576.62,672.97 L577.44,672.63 L578.25,672.42 L579.07,672.41 L579.89,672.21 L580.71,672.69 L581.53,672.38 L582.35,672.14 L583.16,672.13 L583.98,672.00 L584.80,671.69 L585.61,672.22 L586.42,671.95 L587.23,672.16 L588.04,671.74 L588.85,671.81 L589.65,671.50 L590.46,671.30 L591.27,671.87 L592.08,671.76 L592.89,671.32 L593.70,671.68 L594.52,671.68 L595.34,671.37 L596.15,671.64 L596.97,671.94 L597.79,671.67 L598.61,672.04 L599.43,671.60 L600.25,671.76 L601.06,672.04 L601.88,671.75 L602.70,671.87 L603.52,672.34 L604.34,672.15 L605.15,672.45 L605.97,672.15 L606.79,672.18 L607.61,672.39 L608.43,672.35 L609.25,672.98 L610.06,672.59 L610.88,672.86 L611.70,672.63 L612.52,672.92 L613.34,672.82 L614.15,672.83 L614.97,672.60 L615.79,672.64 L616.61,673.13 L617.43,672.80 L618.25,672.72 L619.06,672.68 L619.88,672.75 L620.70,672.72 L621.56,672.45 L622.41,672.76 L623.27,672.40 L624.13,672.14 L624.99,672.40 L625.84,671.84 L626.70,671.84 L627.60,672.41 L628.50,672.10 L629.40,672.50 L630.30,672.96 L631.20,673.11 L632.08,672.96 L632.96,673.40 L633.84,673.96 L634.72,674.01 L635.60,674.72 L636.42,674.38 L637.24,675.08 L638.05,674.95 L638.87,674.94 L639.69,675.28 L640.51,675.23 L641.33,675.82 L642.15,675.69 L642.96,676.32 L643.78,676.28 L644.60,676.31 L645.42,676.39 L646.24,676.80 L647.05,676.69 L647.87,677.32 L648.69,676.95 L649.51,677.39 L650.33,677.58 L651.15,677.55 L651.96,678.06 L652.78,677.96 L653.60,678.31 L654.46,678.85 L655.31,679.27 L656.17,679.92 L657.03,680.31 L657.89,680.97 L658.74,682.05 L659.60,682.27 L660.48,682.96 L661.35,683.03 L662.23,683.79 L663.10,684.10 L663.98,684.65 L664.85,684.96 L665.73,685.25 L666.60,686.00 L666.60,690.40 L665.30,690.33 L664.00,690.29 L662.70,689.57 L661.40,689.75 L660.10,689.53 L658.80,689.23 L657.50,689.22 L656.20,688.76 L654.90,688.34 L653.60,688.34 L652.34,688.12 L651.08,688.39 L649.83,688.31 L648.57,688.04 L647.31,688.29 L646.05,688.05 L644.79,688.21 L643.54,688.14 L642.28,687.97 L641.02,688.10 L639.76,687.81 L638.51,687.87 L637.25,688.21 L635.99,687.73 L634.73,687.96 L633.47,688.13 L632.22,687.67 L630.96,687.60 L629.70,687.74 L628.50,687.81 L627.30,687.77 L626.10,687.68 L624.90,687.75 L623.70,687.60 L622.50,687.75 L621.30,687.38 L620.10,687.58 L618.90,687.69 L617.70,687.37 L616.50,687.25 L615.30,687.74 L614.10,687.39 L612.90,687.34 L611.70,687.53 L610.50,687.40 L609.30,687.66 L608.10,687.41 L606.90,687.22 L605.70,687.39 L604.50,687.40 L603.30,687.01 L602.10,687.43 L600.90,687.30 L599.70,687.48 L598.45,687.48 L597.21,687.42 L595.96,687.45 L594.72,687.48 L593.47,687.18 L592.23,687.09 L590.98,686.95 L589.73,687.02 L588.49,687.11 L587.24,687.24 L586.00,687.17 L584.75,687.08 L583.50,687.00 L582.26,687.44 L581.01,687.40 L579.77,687.30 L578.52,687.16 L577.27,687.10 L576.03,687.15 L574.78,687.21 L573.54,687.30 L572.29,687.07 L571.05,687.16 L569.80,687.37 L568.55,687.38 L567.31,687.33 L566.06,686.79 L564.82,687.18 L563.57,686.83 L562.32,686.94 L561.08,686.66 L559.83,686.65 L558.59,687.14 L557.34,686.79 L556.10,686.59 L554.85,686.86 L553.60,686.46 L552.36,686.72 L551.11,686.52 L549.87,686.39 L548.62,686.56 L547.38,686.52 L546.13,686.75 L544.88,686.69 L543.64,686.54 L542.39,686.57 L541.15,686.41 L539.90,686.34 L538.70,685.99 L537.50,686.07 L536.30,686.39 L535.10,686.08 L533.90,686.15 L532.70,686.01 L531.50,685.94 L530.30,686.21 L529.10,685.79 L527.90,685.84 L526.70,686.05 L525.50,686.07 L524.30,686.00 L523.10,685.60 L521.90,686.02 L520.70,685.93 L519.50,685.77 L518.30,685.46 L517.10,685.49 L515.90,685.78 L514.70,685.71 L513.50,685.22 L512.30,685.26 L511.10,685.28 L509.90,685.25 L508.65,685.53 L507.41,685.74 L506.16,685.59 L504.92,685.64 L503.67,685.84 L502.42,685.33 L501.18,685.69 L499.93,685.51 L498.69,685.70 L497.44,685.77 L496.20,685.58 L494.95,685.89 L493.70,686.18 L492.46,686.06 L491.21,685.71 L489.97,686.15 L488.72,686.33 L487.48,685.78 L486.23,685.86 L484.98,685.95 L483.74,686.11 L482.49,686.21 L481.25,686.16 L480.00,686.07 L478.77,686.24 L477.53,686.35 L476.30,686.02 L475.07,686.04 L473.83,685.87 L472.60,685.92 L471.37,685.98 L470.13,685.91 L468.90,685.77 L467.67,686.17 L466.43,686.09 L465.20,685.88 L463.98,685.91 L462.77,685.90 L461.55,685.55 L460.33,685.86 L459.12,685.68 L457.90,685.79 L456.68,685.45 L455.47,685.54 L454.25,685.24 L453.03,685.63 L451.82,685.23 L450.60,685.21 L449.38,685.49 L448.17,685.13 L446.95,685.11 L445.73,684.88 L444.52,684.81 L443.30,685.00 L442.08,684.96 L440.87,684.55 L439.65,684.59 L438.43,684.45 L437.22,684.51 L436.00,684.41 L434.74,684.11 L433.49,684.09 L432.23,684.14 L430.97,684.07 L429.71,684.14 L428.46,683.76 L427.20,683.46 L425.75,683.86 L424.30,683.87 L422.85,683.55 L421.40,684.06 L420.18,683.73 L418.97,684.26 L417.75,684.06 L416.53,684.06 L415.32,684.27 L414.10,683.93 L412.88,684.22 L411.67,684.38 L410.45,684.55 L409.23,684.54 L408.02,684.56 L406.80,684.76 L405.58,684.52 L404.37,684.90 L403.15,684.45 L401.93,684.64 L400.72,685.03 L399.50,685.05 L398.28,684.90 L397.07,685.15 L395.85,684.85 L394.63,685.32 L393.42,685.48 L392.20,685.13 L390.98,685.57 L389.77,685.27 L388.55,685.45 L387.33,685.43 L386.12,685.86 L384.90,686.11 L383.68,685.73 L382.47,685.97 L381.25,686.37 L380.03,686.50 L378.82,686.10 L377.60,686.41 L376.38,686.56 L375.17,686.36 L373.95,686.20 L372.73,686.43 L371.52,686.29 L370.30,686.40 L369.08,685.96 L367.87,686.18 L366.65,685.94 L365.43,685.72 L364.22,685.88 L363.00,685.78 L361.78,685.64 L360.57,685.55 L359.35,685.40 L358.13,685.32 L356.92,685.65 L355.70,685.59 L354.48,685.62 L353.27,685.07 L352.05,685.03 L350.83,685.23 L349.62,684.99 L348.40,685.21 L347.18,684.81 L345.97,685.04 L344.75,684.97 L343.53,684.78 L342.32,684.70 L341.10,684.85 L339.88,684.82 L338.67,684.38 L337.45,684.49 L336.23,684.36 L335.02,684.76 L333.80,684.73 L332.35,684.44 L330.90,684.30 L329.45,683.77 L328.00,683.47 L326.68,683.43 L325.35,682.78 L324.02,682.54 L322.70,682.29 Z" fill="#f00000" stroke="none" stroke-width="1"/>
<rect x="339.30" y="499.10" width="135.20" height="95.60" fill="#fff"/>
<path d="M339.30,516.06 L339.60,515.08 L339.90,514.55 L340.20,514.27 L340.50,514.15 L340.80,514.13 L341.10,514.22 L341.40,514.43 L341.70,514.86 L342.00,515.66 L342.30,517.17 L342.60,520.01 L342.90,525.24 L343.20,534.05 L343.50,546.37 L343.80,559.38 L344.10,569.42 L344.40,575.40 L344.70,578.42 L345.00,579.83 L345.30,580.47 L345.60,580.77 L345.90,580.91 L346.20,580.98 L346.50,581.01 L346.80,581.03 L347.10,581.04 L347.40,581.04 L347.70,581.04 L348.00,581.04 L348.30,581.03 L348.60,581.02 L348.90,580.98 L349.20,580.92 L349.50,580.80 L349.80,580.55 L350.10,580.00 L350.40,578.80 L350.70,576.20 L351.00,570.95 L351.30,561.78 L351.60,549.24 L351.90,536.66 L352.20,527.24 L352.50,521.50 L352.80,518.34 L353.10,516.67 L353.40,515.78 L353.70,515.31 L354.00,515.06 L354.30,514.96 L354.60,514.95 L354.90,515.06 L355.20,515.30 L355.50,515.76 L355.80,516.63 L356.10,518.26 L356.40,521.34 L356.70,526.97 L357.00,536.24 L357.30,548.75 L357.60,561.36 L357.90,570.68 L358.20,576.06 L358.50,578.73 L358.80,579.97 L359.10,580.54 L359.40,580.80 L359.70,580.92 L360.00,580.98 L360.30,581.01 L360.60,581.03 L360.90,581.04 L361.20,581.04 L361.50,581.04 L361.80,581.04 L362.10,581.03 L362.40,581.01 L362.70,580.98 L363.00,580.91 L363.30,580.78 L363.60,580.51 L363.90,579.90 L364.20,578.58 L364.50,575.73 L364.80,570.08 L365.10,560.52 L365.40,547.98 L365.70,535.97 L366.00,527.31 L366.30,522.14 L366.60,519.33 L366.90,517.84 L367.20,517.04 L367.50,516.62 L367.80,516.40 L368.10,516.31 L368.40,516.33 L368.70,516.44 L369.00,516.71 L369.30,517.20 L369.60,518.14 L369.90,519.89 L370.20,523.20 L370.50,529.19 L370.80,538.83 L371.10,551.34 L371.40,563.38 L371.70,571.90 L372.00,576.68 L372.30,579.03 L372.60,580.11 L372.90,580.60 L373.20,580.83 L373.50,580.94 L373.80,580.99 L374.10,581.02 L374.40,581.03 L374.70,581.04 L375.00,581.04 L375.30,581.04 L375.60,581.04 L375.90,581.03 L376.20,581.01 L376.50,580.97 L376.80,580.90 L377.10,580.74 L377.40,580.42 L377.70,579.72 L378.00,578.18 L378.30,574.91 L378.60,568.52 L378.90,558.03 L379.20,544.89 L379.50,532.87 L379.80,524.50 L380.10,519.60 L380.40,516.95 L380.70,515.55 L381.00,514.80 L381.30,514.40 L381.60,514.20 L381.90,514.13 L382.20,514.15 L382.50,514.29 L382.80,514.59 L383.10,515.16 L383.40,516.22 L383.70,518.21 L384.00,521.96 L384.30,528.66 L384.60,539.19 L384.90,552.32 L385.20,564.35 L385.50,572.54 L385.80,577.02 L386.10,579.18 L386.40,580.18 L386.70,580.63 L387.00,580.84 L387.30,580.94 L387.60,580.99 L387.90,581.02 L388.20,581.03 L388.50,581.04 L388.80,581.04 L389.10,581.04 L389.40,581.04 L389.70,581.02 L390.00,581.00 L390.30,580.96 L390.60,580.88 L390.90,580.71 L391.20,580.34 L391.50,579.55 L391.80,577.81 L392.10,574.14 L392.40,567.11 L392.70,555.97 L393.00,542.64 L393.30,530.98 L393.60,523.11 L393.90,518.59 L394.20,516.16 L394.50,514.87 L394.80,514.18 L395.10,513.82 L395.40,513.64 L395.70,513.58 L396.00,513.62 L396.30,513.78 L396.60,514.11 L396.90,514.74 L397.20,515.91 L397.50,518.12 L397.80,522.26 L398.10,529.56 L398.40,540.72 L398.70,554.05 L399.00,565.71 L399.30,573.35 L399.60,577.42 L399.90,579.37 L400.20,580.26 L400.50,580.67 L400.80,580.86 L401.10,580.95 L401.40,581.00 L401.70,581.02 L402.00,581.03 L402.30,581.04 L402.60,581.04 L402.90,581.04 L403.20,581.03 L403.50,581.02 L403.80,581.00 L404.10,580.95 L404.40,580.86 L404.70,580.66 L405.00,580.25 L405.30,579.34 L405.60,577.35 L405.90,573.19 L406.20,565.40 L406.50,553.50 L406.80,539.90 L407.10,528.52 L407.40,521.07 L407.70,516.85 L408.00,514.59 L408.30,513.40 L408.60,512.76 L408.90,512.42 L409.20,512.26 L409.50,512.21 L409.80,512.27 L410.10,512.46 L410.40,512.83 L410.70,513.53 L411.00,514.84 L411.30,517.32 L411.60,521.94 L411.90,529.96 L412.20,541.86 L412.50,555.46 L412.80,566.83 L413.10,574.00 L413.40,577.75 L413.70,579.52 L414.00,580.33 L414.30,580.70 L414.60,580.88 L414.90,580.96 L415.20,581.00 L415.50,581.02 L415.80,581.04 L416.10,581.04 L416.40,581.04 L416.70,581.04 L417.00,581.03 L417.30,581.02 L417.60,580.99 L417.90,580.94 L418.20,580.84 L418.50,580.63 L418.80,580.18 L419.10,579.20 L419.40,577.05 L419.70,572.61 L420.00,564.49 L420.30,552.55 L420.60,539.53 L420.90,529.09 L421.20,522.44 L421.50,518.72 L421.80,516.74 L422.10,515.69 L422.40,515.13 L422.70,514.84 L423.00,514.70 L423.30,514.67 L423.60,514.75 L423.90,514.95 L424.20,515.34 L424.50,516.08 L424.80,517.47 L425.10,520.10 L425.40,524.96 L425.70,533.27 L426.00,545.19 L426.30,558.22 L426.60,568.62 L426.90,574.96 L427.20,578.21 L427.50,579.73 L427.80,580.43 L428.10,580.75 L428.40,580.90 L428.70,580.97 L429.00,581.01 L429.30,581.03 L429.60,581.04 L429.90,581.04 L430.20,581.04 L430.50,581.04 L430.80,581.03 L431.10,581.02 L431.40,580.99 L431.70,580.93 L432.00,580.82 L432.30,580.58 L432.60,580.07 L432.90,578.94 L433.20,576.50 L433.50,571.51 L433.80,562.63 L434.10,550.09 L434.40,537.05 L434.70,527.00 L435.00,520.76 L435.30,517.31 L435.60,515.48 L435.90,514.51 L436.20,513.99 L436.50,513.72 L436.80,513.60 L437.10,513.58 L437.40,513.67 L437.70,513.90 L438.00,514.34 L438.30,515.17 L438.60,516.72 L438.90,519.65 L439.20,525.04 L439.50,534.07 L439.80,546.59 L440.10,559.65 L440.40,569.62 L440.70,575.51 L441.00,578.47 L441.30,579.85 L441.60,580.48 L441.90,580.77 L442.20,580.91 L442.50,580.98 L442.80,581.01 L443.10,581.03 L443.40,581.04 L443.70,581.04 L444.00,581.04 L444.30,581.04 L444.60,581.03 L444.90,581.01 L445.20,580.98 L445.50,580.92 L445.80,580.79 L446.10,580.52 L446.40,579.95 L446.70,578.68 L447.00,575.94 L447.30,570.42 L447.60,560.88 L447.90,547.95 L448.20,535.13 L448.50,525.62 L448.80,519.86 L449.10,516.70 L449.40,515.03 L449.70,514.14 L450.00,513.67 L450.30,513.42 L450.60,513.32 L450.90,513.32 L451.20,513.43 L451.50,513.68 L451.80,514.17 L452.10,515.08 L452.40,516.79 L452.70,520.02 L453.00,525.91 L453.30,535.56 L453.60,548.46 L453.90,561.30 L454.20,570.70 L454.50,576.08 L454.80,578.74 L455.10,579.98 L455.40,580.54 L455.70,580.80 L456.00,580.92 L456.30,580.98 L456.60,581.01 L456.90,581.03 L457.20,581.04 L457.50,581.04 L457.80,581.04 L458.10,581.04 L458.40,581.03 L458.70,581.01 L459.00,580.98 L459.30,580.91 L459.60,580.77 L459.90,580.48 L460.20,579.84 L460.50,578.45 L460.80,575.47 L461.10,569.57 L461.40,559.65 L461.70,546.79 L462.00,534.62 L462.30,525.92 L462.60,520.75 L462.90,517.95 L463.20,516.46 L463.50,515.67 L463.80,515.25 L464.10,515.03 L464.40,514.95 L464.70,514.96 L465.00,515.09 L465.30,515.36 L465.60,515.88 L465.90,516.86 L466.20,518.70 L466.50,522.15 L466.80,528.39 L467.10,538.37 L467.40,551.21 L467.70,563.40 L468.00,571.95 L468.30,576.71 L468.60,579.04 L468.90,580.11 L469.20,580.60 L469.50,580.83 L469.80,580.94 L470.10,580.99 L470.40,581.02 L470.70,581.03 L471.00,581.04 L471.30,581.04 L471.60,581.04 L471.90,581.04 L472.20,581.03 L472.50,581.01 L472.80,580.97 L473.10,580.89 L473.40,580.74 L473.70,580.41 L474.00,579.68 L474.30,578.10" fill="none" stroke="#b03030" stroke-width="1.0"/>
<rect x="339.3" y="499.1" width="135.20" height="95.60" fill="none" stroke="#444" stroke-width="0.85"/>
<line x1="352.82" y1="594.70" x2="352.82" y2="595.90" stroke="#444" stroke-width="0.5"/>
<line x1="379.86" y1="594.70" x2="379.86" y2="595.90" stroke="#444" stroke-width="0.5"/>
<line x1="406.90" y1="594.70" x2="406.90" y2="595.90" stroke="#444" stroke-width="0.5"/>
<line x1="433.94" y1="594.70" x2="433.94" y2="595.90" stroke="#444" stroke-width="0.5"/>
<line x1="460.98" y1="594.70" x2="460.98" y2="595.90" stroke="#444" stroke-width="0.5"/>
<line x1="337.50" y1="581.04" x2="339.30" y2="581.04" stroke="#555" stroke-width="0.6"/>
<text x="337.00" y="583.24" font-size="6.4" text-anchor="end" fill="#333" font-weight="normal">0</text>
<line x1="337.50" y1="553.73" x2="339.30" y2="553.73" stroke="#555" stroke-width="0.6"/>
<text x="337.00" y="555.93" font-size="6.4" text-anchor="end" fill="#333" font-weight="normal">1</text>
<line x1="337.50" y1="526.41" x2="339.30" y2="526.41" stroke="#555" stroke-width="0.6"/>
<text x="337.00" y="528.61" font-size="6.4" text-anchor="end" fill="#333" font-weight="normal">2</text>
<line x1="337.50" y1="499.10" x2="339.30" y2="499.10" stroke="#555" stroke-width="0.6"/>
<text x="337.00" y="501.30" font-size="6.4" text-anchor="end" fill="#333" font-weight="normal">3</text>
<line x1="339.30" y1="594.70" x2="339.30" y2="596.50" stroke="#555" stroke-width="0.6"/>
<text x="339.30" y="603.30" font-size="6.6" text-anchor="middle" fill="#333" font-weight="normal">0</text>
<line x1="366.34" y1="594.70" x2="366.34" y2="596.50" stroke="#555" stroke-width="0.6"/>
<text x="366.34" y="603.30" font-size="6.6" text-anchor="middle" fill="#333" font-weight="normal">2</text>
<line x1="393.38" y1="594.70" x2="393.38" y2="596.50" stroke="#555" stroke-width="0.6"/>
<text x="393.38" y="603.30" font-size="6.6" text-anchor="middle" fill="#333" font-weight="normal">4</text>
<line x1="420.42" y1="594.70" x2="420.42" y2="596.50" stroke="#555" stroke-width="0.6"/>
<text x="420.42" y="603.30" font-size="6.6" text-anchor="middle" fill="#333" font-weight="normal">6</text>
<line x1="447.46" y1="594.70" x2="447.46" y2="596.50" stroke="#555" stroke-width="0.6"/>
<text x="447.46" y="603.30" font-size="6.6" text-anchor="middle" fill="#333" font-weight="normal">8</text>
<line x1="474.50" y1="594.70" x2="474.50" y2="596.50" stroke="#555" stroke-width="0.6"/>
<text x="474.50" y="603.30" font-size="6.6" text-anchor="middle" fill="#333" font-weight="normal">10</text>
<text transform="translate(330.20,544.00) rotate(-90)" font-size="6" text-anchor="middle" fill="#333">ΔR/R<tspan font-size="4.3" dy="1.6">0</tspan></text>
<text x="404.50" y="616.70" font-size="10.2" text-anchor="middle" fill="#222" font-weight="normal">Cycles</text>
<rect x="515.80" y="500.00" width="146.70" height="95.10" fill="#fff"/>
<path d="M515.80,523.53 L516.10,524.08 L516.40,524.97 L516.70,526.42 L517.00,528.76 L517.30,532.42 L517.60,537.88 L517.90,545.25 L518.20,554.00 L518.50,562.82 L518.80,570.41 L519.10,576.09 L519.40,579.94 L519.70,582.41 L520.00,583.94 L520.30,584.88 L520.60,585.46 L520.90,585.82 L521.20,586.04 L521.50,586.16 L521.80,586.22 L522.10,586.22 L522.40,586.16 L522.70,586.03 L523.00,585.81 L523.30,585.45 L523.60,584.86 L523.90,583.90 L524.20,582.34 L524.50,579.84 L524.80,575.93 L525.10,570.18 L525.40,562.54 L525.70,553.70 L526.00,544.98 L526.30,537.66 L526.60,532.28 L526.90,528.66 L527.20,526.36 L527.50,524.94 L527.80,524.06 L528.10,523.52 L528.40,523.19 L528.70,522.99 L529.00,522.87 L529.30,522.83 L529.60,522.84 L529.90,522.90 L530.20,523.04 L530.50,523.28 L530.80,523.67 L531.10,524.31 L531.40,525.34 L531.70,527.01 L532.00,529.69 L532.30,533.86 L532.60,539.90 L532.90,547.78 L533.20,556.70 L533.50,565.28 L533.80,572.32 L534.10,577.42 L534.40,580.81 L534.70,582.95 L535.00,584.27 L535.30,585.09 L535.60,585.59 L535.90,585.90 L536.20,586.08 L536.50,586.18 L536.80,586.22 L537.10,586.21 L537.40,586.13 L537.70,585.98 L538.00,585.72 L538.30,585.30 L538.60,584.62 L538.90,583.51 L539.20,581.71 L539.50,578.84 L539.80,574.41 L540.10,568.08 L540.40,559.96 L540.70,551.00 L541.00,542.60 L541.30,535.84 L541.60,531.02 L541.90,527.85 L542.20,525.86 L542.50,524.63 L542.80,523.87 L543.10,523.40 L543.40,523.12 L543.70,522.94 L544.00,522.85 L544.30,522.82 L544.60,522.85 L544.90,522.94 L545.20,523.10 L545.50,523.38 L545.80,523.83 L546.10,524.57 L546.40,525.76 L546.70,527.69 L547.00,530.77 L547.30,535.46 L547.60,542.09 L547.90,550.41 L548.20,559.38 L548.50,567.59 L548.80,574.05 L549.10,578.59 L549.40,581.56 L549.70,583.41 L550.00,584.56 L550.30,585.26 L550.60,585.70 L550.90,585.96 L551.20,586.12 L551.50,586.20 L551.80,586.22 L552.10,586.19 L552.40,586.09 L552.70,585.91 L553.00,585.61 L553.30,585.13 L553.60,584.34 L553.90,583.06 L554.20,580.98 L554.50,577.69 L554.80,572.72 L555.10,565.80 L555.40,557.30 L555.70,548.36 L556.00,540.37 L556.30,534.20 L556.60,529.92 L556.90,527.15 L557.20,525.43 L557.50,524.36 L557.80,523.71 L558.10,523.30 L558.40,523.05 L558.70,522.91 L559.00,522.84 L559.30,522.83 L559.60,522.87 L559.90,522.98 L560.20,523.17 L560.50,523.49 L560.80,524.02 L561.10,524.86 L561.40,526.24 L561.70,528.47 L562.00,531.98 L562.30,537.24 L562.60,544.44 L562.90,553.09 L563.20,561.98 L563.50,569.73 L563.80,575.61 L564.10,579.63 L564.40,582.21 L564.70,583.82 L565.00,584.81 L565.30,585.42 L565.60,585.79 L565.90,586.02 L566.20,586.15 L566.50,586.21 L566.80,586.22 L567.10,586.17 L567.40,586.05 L567.70,585.84 L568.00,585.49 L568.30,584.93 L568.60,584.02 L568.90,582.53 L569.20,580.14 L569.50,576.40 L569.80,570.85 L570.10,563.38 L570.40,554.60 L570.70,545.81 L571.00,538.31 L571.30,532.73 L571.60,528.95 L571.90,526.55 L572.20,525.05 L572.50,524.13 L572.80,523.56 L573.10,523.21 L573.40,523.00 L573.70,522.88 L574.00,522.83 L574.30,522.83 L574.60,522.89 L574.90,523.02 L575.20,523.25 L575.50,523.62 L575.80,524.23 L576.10,525.21 L576.40,526.80 L576.70,529.37 L577.00,533.36 L577.30,539.20 L577.60,546.93 L577.90,555.80 L578.20,564.47 L578.50,571.70 L578.80,576.99 L579.10,580.53 L579.40,582.78 L579.70,584.17 L580.00,585.02 L580.30,585.55 L580.60,585.87 L580.90,586.07 L581.20,586.18 L581.50,586.22 L581.80,586.21 L582.10,586.14 L582.40,586.00 L582.70,585.75 L583.00,585.35 L583.30,584.70 L583.60,583.65 L583.90,581.93 L584.20,579.18 L584.50,574.94 L584.80,568.80 L585.10,560.83 L585.40,551.89 L585.70,543.38 L586.00,536.43 L586.30,531.42 L586.60,528.11 L586.90,526.02 L587.20,524.73 L587.50,523.93 L587.80,523.44 L588.10,523.14 L588.40,522.96 L588.70,522.86 L589.00,522.82 L589.30,522.84 L589.60,522.92 L589.90,523.08 L590.20,523.34 L590.50,523.78 L590.80,524.47 L591.10,525.61 L591.40,527.45 L591.70,530.39 L592.00,534.91 L592.30,541.34 L592.60,549.52 L592.90,558.49 L593.20,566.83 L593.50,573.49 L593.80,578.22 L594.10,581.32 L594.40,583.27 L594.70,584.47 L595.00,585.21 L595.30,585.66 L595.60,585.94 L595.90,586.11 L596.20,586.20 L596.50,586.22 L596.80,586.20 L597.10,586.11 L597.40,585.94 L597.70,585.65 L598.00,585.19 L598.30,584.44 L598.60,583.21 L598.90,581.24 L599.20,578.09 L599.50,573.30 L599.80,566.58 L600.10,558.20 L600.40,549.23 L600.70,541.09 L601.00,534.73 L601.30,530.27 L601.60,527.38 L601.90,525.56 L602.20,524.45 L602.50,523.76 L602.80,523.33 L603.10,523.07 L603.40,522.92 L603.70,522.84 L604.00,522.82 L604.30,522.86 L604.60,522.96 L604.90,523.15 L605.20,523.45 L605.50,523.95 L605.80,524.76 L606.10,526.07 L606.40,528.20 L606.70,531.56 L607.00,536.63 L607.30,543.64 L607.60,552.19 L607.90,561.12 L608.20,569.03 L608.50,575.11 L608.80,579.30 L609.10,582.00 L609.40,583.69 L609.70,584.73 L610.00,585.37 L610.30,585.76 L610.60,586.00 L610.90,586.14 L611.20,586.21 L611.50,586.22 L611.80,586.18 L612.10,586.06 L612.40,585.86 L612.70,585.53 L613.00,585.00 L613.30,584.13 L613.60,582.72 L613.90,580.44 L614.20,576.85 L614.50,571.49 L614.80,564.20 L615.10,555.50 L615.40,546.64 L615.70,538.98 L616.00,533.20 L616.30,529.26 L616.60,526.74 L616.90,525.17 L617.20,524.20 L617.50,523.61 L617.80,523.24 L618.10,523.02 L618.40,522.89 L618.70,522.83 L619.00,522.83 L619.30,522.88 L619.60,523.01 L619.90,523.22 L620.20,523.58 L620.50,524.15 L620.80,525.09 L621.10,526.61 L621.40,529.05 L621.70,532.88 L622.00,538.53 L622.30,546.08 L622.60,554.90 L622.90,563.66 L623.20,571.06 L623.50,576.55 L623.80,580.24 L624.10,582.60 L624.40,584.06 L624.70,584.95 L625.00,585.51 L625.30,585.85 L625.60,586.05 L625.90,586.17 L626.20,586.22 L626.50,586.21 L626.80,586.15 L627.10,586.01 L627.40,585.78 L627.70,585.40 L628.00,584.78 L628.30,583.78 L628.60,582.14 L628.90,579.52 L629.20,575.44 L629.50,569.50 L629.80,561.70 L630.10,552.79 L630.40,544.17 L630.70,537.03 L631.00,531.84 L631.30,528.38 L631.60,526.19 L631.90,524.83 L632.20,523.99 L632.50,523.48 L632.80,523.16 L633.10,522.97 L633.40,522.87 L633.70,522.83 L634.00,522.84 L634.30,522.91 L634.60,523.06 L634.90,523.31 L635.20,523.72 L635.50,524.39 L635.80,525.47 L636.10,527.23 L636.40,530.04 L636.70,534.37 L637.00,540.61 L637.30,548.65 L637.60,557.60 L637.90,566.06 L638.20,572.92 L638.50,577.83 L638.80,581.07 L639.10,583.11 L639.40,584.37 L639.70,585.15 L640.00,585.63 L640.30,585.92 L640.60,586.10 L640.90,586.19 L641.20,586.22 L641.50,586.20 L641.80,586.12 L642.10,585.96 L642.40,585.69 L642.70,585.24 L643.00,584.53 L643.30,583.37 L643.60,581.48 L643.90,578.47 L644.20,573.87 L644.50,567.34 L644.80,559.08 L645.10,550.11 L645.40,541.84 L645.70,535.27 L646.00,530.64 L646.30,527.61 L646.60,525.71 L646.90,524.53 L647.20,523.81 L647.50,523.37 L647.80,523.09 L648.10,522.93 L648.40,522.85 L648.70,522.82 L649.00,522.86 L649.30,522.95 L649.60,523.12 L649.90,523.41 L650.20,523.89 L650.50,524.66 L650.80,525.91 L651.10,527.94 L651.40,531.15 L651.70,536.03 L652.00,542.86 L652.30,551.30 L652.60,560.26 L652.90,568.32 L653.20,574.59 L653.50,578.95 L653.80,581.79 L654.10,583.55 L654.40,584.65 L654.70,585.32 L655.00,585.73 L655.30,585.98 L655.60,586.13 L655.90,586.21 L656.20,586.22 L656.50,586.18 L656.80,586.08 L657.10,585.89 L657.40,585.58 L657.70,585.07 L658.00,584.24 L658.30,582.89 L658.60,580.72 L658.90,577.28 L659.20,572.12 L659.50,565.01 L659.80,556.40 L660.10,547.50 L660.40,539.66 L660.70,533.69 L661.00,529.58 L661.30,526.94 L661.60,525.29 L661.90,524.28 L662.20,523.66 L662.50,523.27" fill="none" stroke="#b03030" stroke-width="1.0"/>
<rect x="515.8" y="500.0" width="146.70" height="95.10" fill="none" stroke="#444" stroke-width="0.85"/>
<line x1="530.47" y1="595.10" x2="530.47" y2="596.30" stroke="#444" stroke-width="0.5"/>
<line x1="559.81" y1="595.10" x2="559.81" y2="596.30" stroke="#444" stroke-width="0.5"/>
<line x1="589.15" y1="595.10" x2="589.15" y2="596.30" stroke="#444" stroke-width="0.5"/>
<line x1="618.49" y1="595.10" x2="618.49" y2="596.30" stroke="#444" stroke-width="0.5"/>
<line x1="647.83" y1="595.10" x2="647.83" y2="596.30" stroke="#444" stroke-width="0.5"/>
<line x1="514.00" y1="563.40" x2="515.80" y2="563.40" stroke="#555" stroke-width="0.6"/>
<text x="513.50" y="565.60" font-size="6.4" text-anchor="end" fill="#333" font-weight="normal">0.0</text>
<line x1="514.00" y1="500.00" x2="515.80" y2="500.00" stroke="#555" stroke-width="0.6"/>
<text x="513.50" y="502.20" font-size="6.4" text-anchor="end" fill="#333" font-weight="normal">0.5</text>
<line x1="515.80" y1="595.10" x2="515.80" y2="596.90" stroke="#555" stroke-width="0.6"/>
<text x="515.80" y="603.70" font-size="6.6" text-anchor="middle" fill="#333" font-weight="normal">4590</text>
<line x1="545.14" y1="595.10" x2="545.14" y2="596.90" stroke="#555" stroke-width="0.6"/>
<text x="545.14" y="603.70" font-size="6.6" text-anchor="middle" fill="#333" font-weight="normal">4592</text>
<line x1="574.48" y1="595.10" x2="574.48" y2="596.90" stroke="#555" stroke-width="0.6"/>
<text x="574.48" y="603.70" font-size="6.6" text-anchor="middle" fill="#333" font-weight="normal">4594</text>
<line x1="603.82" y1="595.10" x2="603.82" y2="596.90" stroke="#555" stroke-width="0.6"/>
<text x="603.82" y="603.70" font-size="6.6" text-anchor="middle" fill="#333" font-weight="normal">4596</text>
<line x1="633.16" y1="595.10" x2="633.16" y2="596.90" stroke="#555" stroke-width="0.6"/>
<text x="633.16" y="603.70" font-size="6.6" text-anchor="middle" fill="#333" font-weight="normal">4598</text>
<line x1="662.50" y1="595.10" x2="662.50" y2="596.90" stroke="#555" stroke-width="0.6"/>
<text x="662.50" y="603.70" font-size="6.6" text-anchor="middle" fill="#333" font-weight="normal">4600</text>
<text transform="translate(504.00,548.00) rotate(-90)" font-size="6" text-anchor="middle" fill="#333">ΔR/R<tspan font-size="4.3" dy="1.6">0</tspan></text>
<text x="594.90" y="617.10" font-size="10.2" text-anchor="middle" fill="#222" font-weight="normal">Cycles</text>
<rect x="308.6" y="490.6" width="368.80" height="204.80" fill="none" stroke="#111" stroke-width="1.8"/>
<line x1="305.00" y1="683.60" x2="308.60" y2="683.60" stroke="#111" stroke-width="1.1"/>
<text x="303.20" y="687.80" font-size="11.9" text-anchor="end" fill="#222" font-weight="normal">0</text>
<line x1="305.00" y1="635.30" x2="308.60" y2="635.30" stroke="#111" stroke-width="1.1"/>
<text x="303.20" y="639.50" font-size="11.9" text-anchor="end" fill="#222" font-weight="normal">2</text>
<line x1="305.00" y1="587.00" x2="308.60" y2="587.00" stroke="#111" stroke-width="1.1"/>
<text x="303.20" y="591.20" font-size="11.9" text-anchor="end" fill="#222" font-weight="normal">4</text>
<line x1="305.00" y1="538.70" x2="308.60" y2="538.70" stroke="#111" stroke-width="1.1"/>
<text x="303.20" y="542.90" font-size="11.9" text-anchor="end" fill="#222" font-weight="normal">6</text>
<line x1="305.00" y1="490.40" x2="308.60" y2="490.40" stroke="#111" stroke-width="1.1"/>
<text x="303.20" y="494.60" font-size="11.9" text-anchor="end" fill="#222" font-weight="normal">8</text>
<line x1="306.40" y1="659.45" x2="308.60" y2="659.45" stroke="#111" stroke-width="1.0"/>
<line x1="306.40" y1="611.15" x2="308.60" y2="611.15" stroke="#111" stroke-width="1.0"/>
<line x1="306.40" y1="562.85" x2="308.60" y2="562.85" stroke="#111" stroke-width="1.0"/>
<line x1="306.40" y1="514.55" x2="308.60" y2="514.55" stroke="#111" stroke-width="1.0"/>
<line x1="323.00" y1="695.40" x2="323.00" y2="699.00" stroke="#111" stroke-width="1.1"/>
<text x="326.60" y="712.90" font-size="11.5" text-anchor="middle" fill="#222" font-weight="normal">0</text>
<line x1="392.40" y1="695.40" x2="392.40" y2="699.00" stroke="#111" stroke-width="1.1"/>
<text x="391.60" y="712.90" font-size="11.5" text-anchor="middle" fill="#222" font-weight="normal">1000</text>
<line x1="461.80" y1="695.40" x2="461.80" y2="699.00" stroke="#111" stroke-width="1.1"/>
<text x="458.50" y="712.90" font-size="11.5" text-anchor="middle" fill="#222" font-weight="normal">2000</text>
<line x1="531.20" y1="695.40" x2="531.20" y2="699.00" stroke="#111" stroke-width="1.1"/>
<text x="529.20" y="712.90" font-size="11.5" text-anchor="middle" fill="#222" font-weight="normal">3000</text>
<line x1="600.60" y1="695.40" x2="600.60" y2="699.00" stroke="#111" stroke-width="1.1"/>
<text x="599.10" y="712.90" font-size="11.5" text-anchor="middle" fill="#222" font-weight="normal">4000</text>
<line x1="670.00" y1="695.40" x2="670.00" y2="699.00" stroke="#111" stroke-width="1.1"/>
<text x="667.50" y="712.90" font-size="11.5" text-anchor="middle" fill="#222" font-weight="normal">5000</text>
<line x1="357.70" y1="695.40" x2="357.70" y2="697.60" stroke="#111" stroke-width="1.0"/>
<line x1="427.10" y1="695.40" x2="427.10" y2="697.60" stroke="#111" stroke-width="1.0"/>
<line x1="496.50" y1="695.40" x2="496.50" y2="697.60" stroke="#111" stroke-width="1.0"/>
<line x1="565.90" y1="695.40" x2="565.90" y2="697.60" stroke="#111" stroke-width="1.0"/>
<line x1="635.30" y1="695.40" x2="635.30" y2="697.60" stroke="#111" stroke-width="1.0"/>
<text x="486.80" y="729.20" font-size="14.9" text-anchor="middle" fill="#111" font-weight="normal">Cycles</text>
<text transform="translate(291.0,586.3) rotate(-90)" font-size="14.4" text-anchor="middle" fill="#111">ΔR/R<tspan font-size="10" dy="4.3">0</tspan></text>
</svg></body></html>
